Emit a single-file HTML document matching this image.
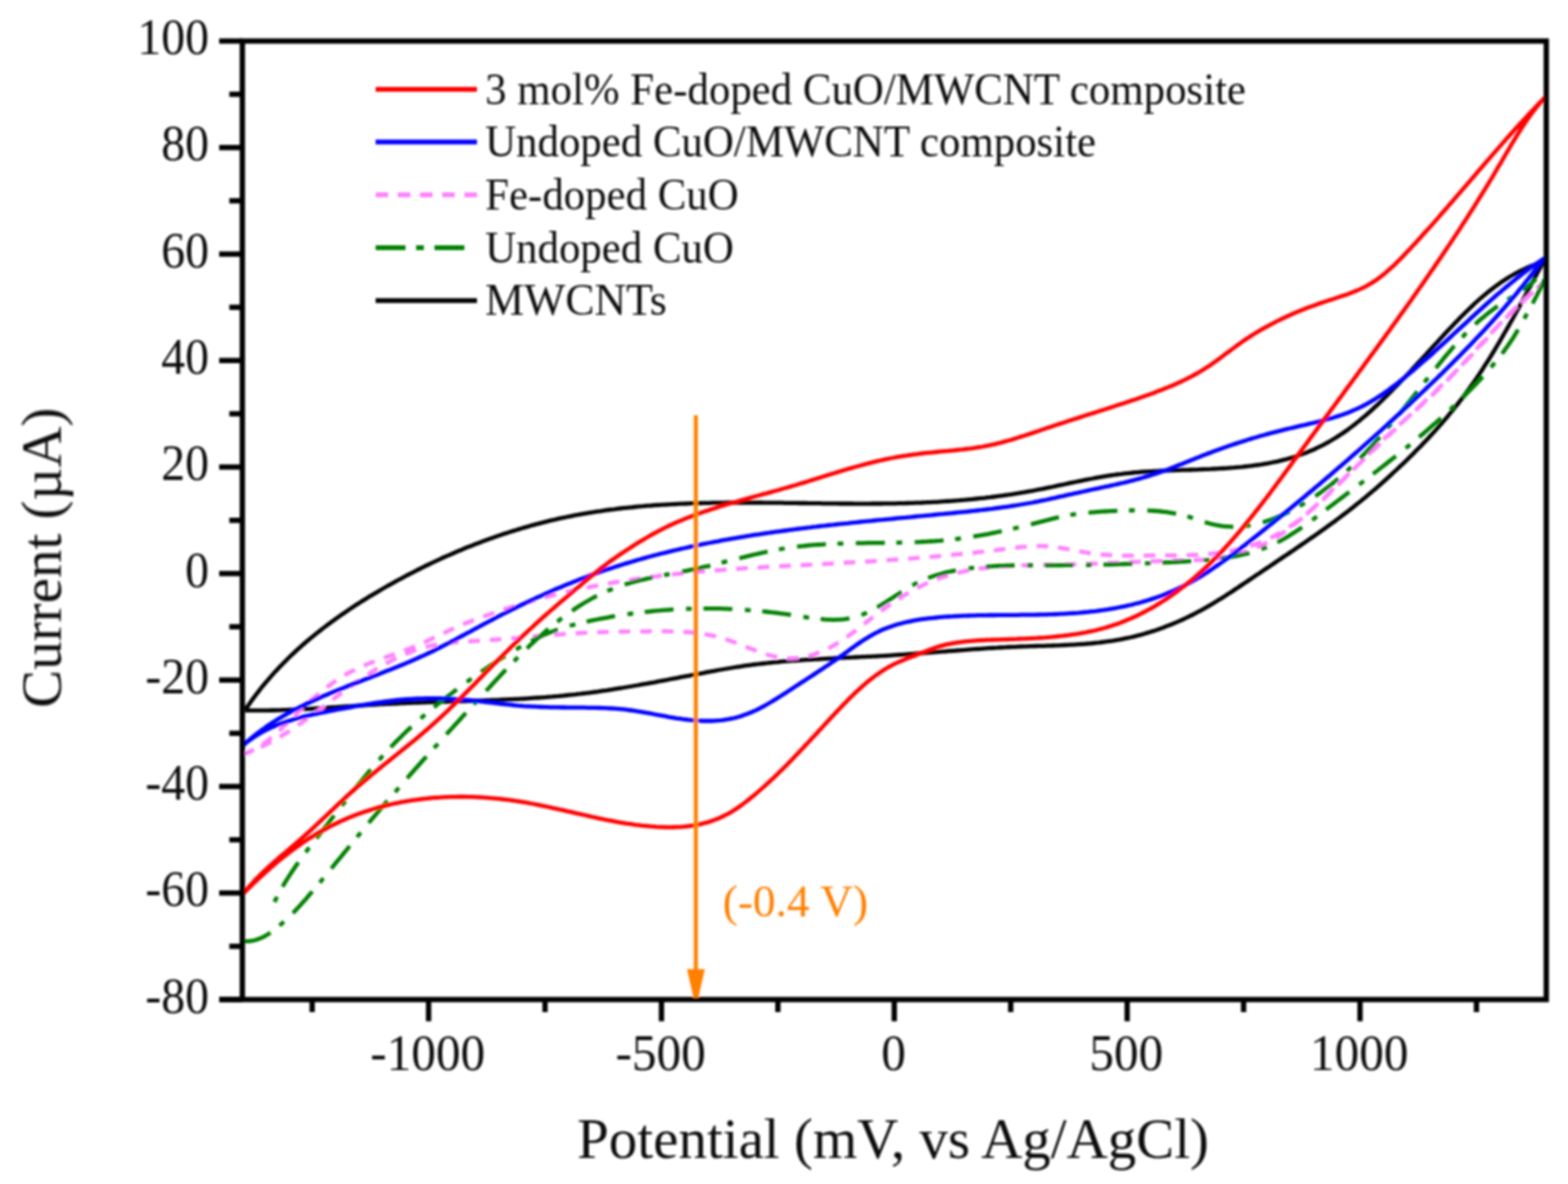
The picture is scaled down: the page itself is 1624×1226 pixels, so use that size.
<!DOCTYPE html>
<html><head><meta charset="utf-8"><title>Cyclic voltammograms</title>
<style>html,body{margin:0;padding:0;background:#fff;}body{width:1624px;height:1226px;overflow:hidden;}svg{display:block;}</style>
</head><body><svg width="1624" height="1226" viewBox="0 0 1624 1226"><defs><filter id="soft" x="0" y="0" width="1624" height="1226" filterUnits="userSpaceOnUse"><feGaussianBlur stdDeviation="1.0"/></filter></defs><rect width="1624" height="1226" fill="#fff"/><g filter="url(#soft)"><path d="M254.0,735.0 L255.7,732.5 L257.4,730.0 L259.2,727.5 L260.9,725.0 L262.7,722.6 L264.5,720.2 L266.3,717.8 L268.2,715.4 L270.0,713.0 L271.9,710.7 L273.8,708.4 L275.7,706.1 L277.7,703.8 L279.6,701.6 L281.6,699.3 L283.6,697.1 L285.6,694.9 L287.7,692.7 L289.7,690.6 L291.8,688.4 L293.9,686.3 L296.0,684.2 L298.1,682.1 L300.2,680.0 L302.4,677.9 L304.6,675.9 L306.7,673.9 L308.9,671.9 L311.2,669.9 L313.4,667.9 L315.6,666.0 L317.9,664.0 L320.2,662.1 L322.5,660.2 L324.8,658.3 L327.1,656.4 L329.4,654.6 L331.8,652.7 L334.1,650.9 L336.5,649.1 L338.9,647.3 L341.3,645.5 L343.7,643.7 L346.1,642.0 L348.5,640.2 L351.0,638.5 L353.4,636.8 L355.9,635.1 L358.3,633.4 L360.8,631.7 L363.3,630.0 L365.8,628.4 L368.3,626.7 L370.9,625.1 L373.4,623.5 L375.9,621.9 L378.5,620.3 L381.0,618.7 L383.6,617.2 L386.2,615.6 L388.8,614.1 L391.4,612.6 L394.0,611.0 L396.6,609.5 L399.2,608.0 L401.8,606.5 L404.4,605.1 L407.1,603.6 L409.7,602.1 L412.3,600.7 L415.0,599.3 L417.6,597.8 L420.3,596.4 L423.0,595.0 L425.7,593.6 L428.3,592.3 L431.0,590.9 L433.7,589.5 L436.4,588.2 L439.1,586.8 L441.8,585.5 L444.5,584.2 L447.3,582.9 L450.0,581.6 L452.7,580.4 L455.5,579.1 L458.2,577.8 L461.0,576.6 L463.7,575.4 L466.5,574.2 L469.2,573.0 L472.0,571.8 L474.8,570.6 L477.6,569.4 L480.3,568.3 L483.1,567.1 L485.9,566.0 L488.7,564.9 L491.5,563.8 L494.3,562.7 L497.1,561.7 L500.0,560.6 L502.8,559.6 L505.6,558.5 L508.4,557.5 L511.3,556.5 L514.1,555.5 L516.9,554.5 L519.8,553.6 L522.6,552.6 L525.5,551.7 L528.3,550.8 L531.2,549.9 L534.1,549.0 L536.9,548.1 L539.8,547.2 L542.7,546.4 L545.6,545.6 L548.4,544.7 L551.3,543.9 L554.2,543.1 L557.1,542.4 L560.0,541.6 L562.9,540.9 L565.8,540.1 L568.7,539.4 L571.6,538.7 L574.5,538.1 L577.4,537.4 L580.3,536.7 L583.2,536.1 L586.2,535.5 L589.1,534.9 L592.0,534.3 L594.9,533.7 L597.8,533.2 L600.8,532.6 L603.7,532.1 L606.6,531.6 L609.6,531.1 L612.5,530.6 L615.5,530.2 L618.4,529.7 L621.4,529.3 L624.3,528.8 L627.2,528.4 L630.2,528.0 L633.2,527.6 L636.1,527.3 L639.1,526.9 L642.0,526.5 L645.0,526.2 L648.0,525.9 L650.9,525.6 L653.9,525.3 L656.9,525.0 L659.8,524.7 L662.8,524.4 L665.8,524.2 L668.7,523.9 L671.7,523.7 L674.7,523.5 L677.7,523.2 L680.7,523.0 L683.6,522.8 L686.6,522.6 L689.6,522.5 L692.6,522.3 L695.6,522.1 L698.6,522.0 L701.6,521.8 L704.6,521.7 L707.6,521.6 L710.6,521.5 L713.5,521.4 L716.5,521.2 L719.5,521.2 L722.5,521.1 L725.5,521.0 L728.5,520.9 L731.5,520.8 L734.6,520.8 L737.6,520.7 L740.6,520.7 L743.6,520.6 L746.6,520.6 L749.6,520.6 L752.6,520.5 L755.6,520.5 L758.6,520.5 L761.6,520.5 L764.6,520.5 L767.6,520.5 L770.7,520.5 L773.7,520.5 L776.7,520.5 L779.7,520.5 L782.7,520.5 L785.7,520.5 L788.7,520.5 L791.8,520.6 L794.8,520.6 L797.8,520.6 L800.8,520.6 L803.8,520.7 L806.8,520.7 L809.9,520.7 L812.9,520.8 L815.9,520.8 L818.9,520.8 L821.9,520.9 L825.0,520.9 L828.0,521.0 L831.0,521.0 L834.0,521.0 L837.0,521.1 L840.0,521.1 L843.1,521.2 L846.1,521.2 L849.1,521.2 L852.1,521.3 L855.1,521.3 L858.2,521.3 L861.2,521.4 L864.2,521.4 L867.2,521.4 L870.2,521.5 L873.2,521.5 L876.2,521.5 L879.3,521.5 L882.3,521.5 L885.3,521.6 L888.3,521.6 L891.3,521.6 L894.3,521.6 L897.3,521.6 L900.3,521.6 L903.3,521.5 L906.4,521.5 L909.4,521.5 L912.4,521.5 L915.4,521.4 L918.4,521.4 L921.4,521.4 L924.4,521.3 L927.4,521.3 L930.4,521.2 L933.4,521.1 L936.4,521.1 L939.4,521.0 L942.4,520.9 L945.4,520.8 L948.4,520.7 L951.4,520.6 L954.4,520.5 L957.3,520.3 L960.3,520.2 L963.3,520.1 L966.3,519.9 L969.3,519.8 L972.3,519.6 L975.3,519.4 L978.2,519.2 L981.2,519.0 L984.2,518.8 L987.2,518.6 L990.1,518.4 L993.1,518.2 L996.1,517.9 L999.1,517.7 L1002.0,517.4 L1005.0,517.1 L1008.0,516.8 L1010.9,516.5 L1013.9,516.2 L1016.8,515.9 L1019.8,515.6 L1022.8,515.2 L1025.7,514.9 L1028.7,514.5 L1031.6,514.1 L1034.6,513.7 L1037.5,513.3 L1040.5,512.9 L1043.4,512.5 L1046.4,512.0 L1049.3,511.6 L1052.3,511.1 L1055.2,510.7 L1058.2,510.2 L1061.1,509.7 L1064.1,509.1 L1067.0,508.6 L1069.9,508.1 L1072.9,507.5 L1075.8,506.9 L1078.8,506.4 L1081.7,505.8 L1084.6,505.2 L1087.6,504.6 L1090.5,504.0 L1093.4,503.3 L1096.4,502.7 L1099.3,502.1 L1102.3,501.5 L1105.2,500.9 L1108.1,500.2 L1111.1,499.6 L1114.0,499.0 L1117.0,498.4 L1119.9,497.8 L1122.9,497.2 L1125.8,496.6 L1128.8,496.0 L1131.7,495.5 L1134.7,494.9 L1137.6,494.4 L1140.6,493.9 L1143.5,493.4 L1146.5,492.9 L1149.4,492.4 L1152.4,492.0 L1155.4,491.5 L1158.3,491.1 L1161.3,490.8 L1164.3,490.4 L1167.3,490.1 L1170.2,489.8 L1173.2,489.5 L1176.2,489.2 L1179.2,489.0 L1182.2,488.7 L1185.2,488.5 L1188.1,488.3 L1191.1,488.1 L1194.1,488.0 L1197.1,487.8 L1200.1,487.7 L1203.1,487.5 L1206.1,487.4 L1209.1,487.3 L1212.1,487.2 L1215.1,487.0 L1218.1,486.9 L1221.1,486.8 L1224.1,486.7 L1227.2,486.6 L1230.2,486.6 L1233.2,486.5 L1236.2,486.4 L1239.2,486.3 L1242.2,486.2 L1245.2,486.0 L1248.2,485.9 L1251.2,485.8 L1254.2,485.7 L1257.2,485.5 L1260.3,485.4 L1263.3,485.2 L1266.3,485.0 L1269.3,484.8 L1272.3,484.6 L1275.3,484.4 L1278.3,484.2 L1281.3,483.9 L1284.3,483.7 L1287.3,483.4 L1290.3,483.0 L1293.3,482.7 L1296.3,482.3 L1299.3,481.9 L1302.3,481.5 L1305.2,481.1 L1308.2,480.6 L1311.2,480.1 L1314.1,479.6 L1317.0,479.0 L1320.0,478.4 L1322.9,477.8 L1325.8,477.1 L1328.7,476.4 L1331.6,475.7 L1334.5,474.9 L1337.3,474.1 L1340.2,473.2 L1343.0,472.3 L1345.8,471.3 L1348.6,470.3 L1351.4,469.3 L1354.1,468.2 L1356.8,467.1 L1359.6,465.9 L1362.3,464.7 L1364.9,463.4 L1367.6,462.1 L1370.2,460.8 L1372.9,459.4 L1375.5,458.0 L1378.0,456.5 L1380.6,455.0 L1383.1,453.5 L1385.6,451.9 L1388.1,450.2 L1390.6,448.6 L1393.1,446.9 L1395.5,445.2 L1397.9,443.4 L1400.3,441.6 L1402.7,439.8 L1405.0,437.9 L1407.4,436.1 L1409.7,434.1 L1412.0,432.2 L1414.3,430.3 L1416.5,428.3 L1418.8,426.3 L1421.0,424.3 L1423.3,422.2 L1425.5,420.2 L1427.7,418.1 L1429.9,416.0 L1432.0,413.9 L1434.2,411.8 L1436.4,409.7 L1438.5,407.6 L1440.6,405.4 L1442.7,403.3 L1444.9,401.1 L1447.0,399.0 L1449.1,396.8 L1451.1,394.6 L1453.2,392.4 L1455.3,390.3 L1457.4,388.1 L1459.4,385.9 L1461.5,383.7 L1463.5,381.5 L1465.6,379.2 L1467.6,377.0 L1469.7,374.8 L1471.7,372.6 L1473.7,370.4 L1475.8,368.2 L1477.8,366.0 L1479.8,363.7 L1481.9,361.5 L1483.9,359.3 L1485.9,357.1 L1488.0,354.9 L1490.0,352.7 L1492.0,350.4 L1494.1,348.2 L1496.1,346.0 L1498.2,343.8 L1500.2,341.6 L1502.3,339.5 L1504.4,337.3 L1506.4,335.1 L1508.5,332.9 L1510.6,330.8 L1512.7,328.6 L1514.8,326.5 L1516.9,324.4 L1519.1,322.3 L1521.2,320.2 L1523.4,318.1 L1525.6,316.1 L1527.7,314.0 L1529.9,312.0 L1532.2,310.0 L1534.4,308.1 L1536.7,306.2 L1538.9,304.3 L1541.2,302.4 L1543.6,300.5 L1545.9,298.7 L1548.3,296.9 L1550.6,295.2 L1553.1,293.5 L1555.5,291.8 L1557.9,290.2 L1560.4,288.6 L1562.9,287.0 L1565.5,285.5 L1568.1,284.0 L1570.7,282.6 L1573.3,281.2 L1576.0,279.8 L1578.7,278.6 L1581.4,277.3 L1584.1,276.1 L1586.9,275.0 L1589.8,273.9 L1592.6,272.9 L1595.6,271.9 L1598.5,271.0 L1597.1,273.6 L1595.7,276.3 L1594.3,278.9 L1592.8,281.5 L1591.4,284.2 L1590.0,286.8 L1588.6,289.4 L1587.2,292.1 L1585.8,294.7 L1584.4,297.4 L1583.0,300.0 L1581.5,302.7 L1580.1,305.3 L1578.7,308.0 L1577.3,310.6 L1575.8,313.2 L1574.4,315.9 L1573.0,318.5 L1571.5,321.2 L1570.1,323.8 L1568.6,326.4 L1567.2,329.1 L1565.7,331.7 L1564.3,334.3 L1562.8,337.0 L1561.3,339.6 L1559.8,342.2 L1558.3,344.8 L1556.8,347.4 L1555.3,350.0 L1553.8,352.6 L1552.3,355.2 L1550.7,357.8 L1549.2,360.4 L1547.7,362.9 L1546.1,365.5 L1544.5,368.1 L1542.9,370.6 L1541.4,373.2 L1539.7,375.7 L1538.1,378.2 L1536.5,380.7 L1534.9,383.3 L1533.2,385.8 L1531.6,388.3 L1529.9,390.7 L1528.2,393.2 L1526.5,395.7 L1524.8,398.1 L1523.0,400.6 L1521.3,403.0 L1519.5,405.4 L1517.8,407.8 L1516.0,410.2 L1514.2,412.6 L1512.3,415.0 L1510.5,417.4 L1508.7,419.7 L1506.8,422.0 L1504.9,424.4 L1503.0,426.7 L1501.1,429.0 L1499.2,431.3 L1497.3,433.6 L1495.3,435.9 L1493.4,438.1 L1491.4,440.4 L1489.4,442.6 L1487.4,444.9 L1485.4,447.1 L1483.4,449.3 L1481.3,451.5 L1479.3,453.7 L1477.2,455.9 L1475.2,458.0 L1473.1,460.2 L1471.0,462.4 L1468.9,464.5 L1466.8,466.6 L1464.7,468.8 L1462.6,470.9 L1460.4,473.0 L1458.3,475.1 L1456.1,477.2 L1454.0,479.3 L1451.8,481.3 L1449.6,483.4 L1447.4,485.5 L1445.2,487.5 L1443.0,489.5 L1440.8,491.6 L1438.6,493.6 L1436.4,495.6 L1434.2,497.6 L1431.9,499.6 L1429.7,501.6 L1427.4,503.6 L1425.2,505.6 L1422.9,507.5 L1420.6,509.5 L1418.3,511.4 L1416.0,513.3 L1413.7,515.3 L1411.4,517.2 L1409.1,519.1 L1406.8,520.9 L1404.4,522.8 L1402.1,524.7 L1399.7,526.5 L1397.4,528.4 L1395.0,530.2 L1392.6,532.0 L1390.3,533.8 L1387.9,535.6 L1385.5,537.4 L1383.1,539.2 L1380.7,541.0 L1378.2,542.7 L1375.8,544.5 L1373.4,546.2 L1371.0,548.0 L1368.5,549.7 L1366.1,551.5 L1363.6,553.2 L1361.2,554.9 L1358.7,556.6 L1356.3,558.3 L1353.8,560.0 L1351.4,561.8 L1348.9,563.4 L1346.4,565.1 L1343.9,566.8 L1341.5,568.5 L1339.0,570.2 L1336.5,571.9 L1334.0,573.6 L1331.5,575.2 L1329.0,576.9 L1326.5,578.6 L1324.0,580.3 L1321.6,581.9 L1319.1,583.6 L1316.6,585.3 L1314.1,587.0 L1311.6,588.6 L1309.1,590.3 L1306.6,592.0 L1304.1,593.7 L1301.6,595.3 L1299.1,597.0 L1296.6,598.7 L1294.1,600.4 L1291.6,602.1 L1289.1,603.7 L1286.6,605.4 L1284.1,607.1 L1281.6,608.8 L1279.1,610.4 L1276.6,612.1 L1274.1,613.7 L1271.6,615.3 L1269.1,617.0 L1266.5,618.6 L1264.0,620.2 L1261.4,621.7 L1258.9,623.3 L1256.3,624.9 L1253.7,626.4 L1251.2,627.9 L1248.6,629.4 L1245.9,630.9 L1243.3,632.3 L1240.7,633.7 L1238.0,635.1 L1235.4,636.5 L1232.7,637.8 L1230.0,639.1 L1227.3,640.4 L1224.5,641.7 L1221.8,642.9 L1219.1,644.1 L1216.3,645.3 L1213.5,646.4 L1210.7,647.6 L1207.9,648.6 L1205.1,649.7 L1202.3,650.7 L1199.5,651.7 L1196.7,652.7 L1193.8,653.6 L1191.0,654.5 L1188.1,655.4 L1185.2,656.3 L1182.3,657.1 L1179.4,657.8 L1176.5,658.6 L1173.6,659.3 L1170.7,660.0 L1167.8,660.6 L1164.9,661.2 L1161.9,661.8 L1159.0,662.4 L1156.0,662.9 L1153.1,663.4 L1150.1,663.8 L1147.2,664.2 L1144.2,664.6 L1141.2,665.0 L1138.3,665.4 L1135.3,665.7 L1132.3,666.0 L1129.3,666.3 L1126.3,666.5 L1123.3,666.8 L1120.4,667.0 L1117.4,667.2 L1114.4,667.4 L1111.4,667.6 L1108.3,667.7 L1105.3,667.9 L1102.3,668.0 L1099.3,668.1 L1096.3,668.3 L1093.3,668.4 L1090.3,668.5 L1087.3,668.6 L1084.3,668.7 L1081.2,668.8 L1078.2,668.9 L1075.2,668.9 L1072.2,669.0 L1069.2,669.1 L1066.2,669.2 L1063.1,669.3 L1060.1,669.4 L1057.1,669.5 L1054.1,669.6 L1051.1,669.8 L1048.1,669.9 L1045.1,670.0 L1042.1,670.2 L1039.1,670.3 L1036.1,670.5 L1033.1,670.7 L1030.1,670.8 L1027.1,671.0 L1024.1,671.2 L1021.1,671.4 L1018.1,671.6 L1015.2,671.8 L1012.2,672.0 L1009.2,672.2 L1006.2,672.4 L1003.2,672.6 L1000.2,672.9 L997.2,673.1 L994.3,673.3 L991.3,673.5 L988.3,673.8 L985.3,674.0 L982.3,674.2 L979.3,674.5 L976.4,674.7 L973.4,674.9 L970.4,675.1 L967.4,675.4 L964.4,675.6 L961.5,675.8 L958.5,676.1 L955.5,676.3 L952.5,676.5 L949.5,676.7 L946.5,677.0 L943.5,677.2 L940.6,677.4 L937.6,677.6 L934.6,677.8 L931.6,678.0 L928.6,678.2 L925.6,678.4 L922.6,678.6 L919.6,678.8 L916.6,679.0 L913.6,679.1 L910.6,679.3 L907.6,679.5 L904.6,679.6 L901.6,679.8 L898.6,679.9 L895.6,680.1 L892.6,680.2 L889.6,680.4 L886.6,680.5 L883.6,680.7 L880.6,680.8 L877.6,680.9 L874.6,681.1 L871.6,681.2 L868.6,681.4 L865.6,681.5 L862.6,681.7 L859.6,681.8 L856.6,682.0 L853.6,682.1 L850.6,682.3 L847.6,682.5 L844.6,682.6 L841.6,682.8 L838.6,683.0 L835.6,683.2 L832.6,683.4 L829.6,683.6 L826.6,683.8 L823.6,684.0 L820.6,684.2 L817.6,684.4 L814.6,684.7 L811.6,684.9 L808.6,685.2 L805.6,685.5 L802.6,685.7 L799.7,686.0 L796.7,686.3 L793.7,686.7 L790.7,687.0 L787.7,687.3 L784.8,687.7 L781.8,688.0 L778.8,688.4 L775.8,688.8 L772.9,689.2 L769.9,689.6 L767.0,690.1 L764.0,690.5 L761.0,691.0 L758.1,691.5 L755.1,692.0 L752.2,692.5 L749.2,693.0 L746.3,693.5 L743.3,694.0 L740.4,694.6 L737.4,695.1 L734.5,695.6 L731.6,696.2 L728.6,696.8 L725.7,697.3 L722.7,697.9 L719.8,698.4 L716.8,699.0 L713.9,699.6 L710.9,700.1 L708.0,700.7 L705.1,701.2 L702.1,701.8 L699.2,702.4 L696.2,702.9 L693.3,703.5 L690.3,704.1 L687.4,704.6 L684.4,705.2 L681.5,705.7 L678.5,706.3 L675.6,706.8 L672.6,707.3 L669.7,707.9 L666.7,708.4 L663.8,708.9 L660.8,709.5 L657.9,710.0 L654.9,710.5 L652.0,711.0 L649.0,711.5 L646.1,712.0 L643.1,712.5 L640.2,712.9 L637.2,713.4 L634.2,713.9 L631.3,714.3 L628.3,714.8 L625.4,715.2 L622.4,715.6 L619.4,716.1 L616.5,716.5 L613.5,716.9 L610.5,717.3 L607.6,717.7 L604.6,718.0 L601.6,718.4 L598.6,718.7 L595.7,719.1 L592.7,719.4 L589.7,719.7 L586.7,720.0 L583.7,720.3 L580.8,720.6 L577.8,720.9 L574.8,721.1 L571.8,721.4 L568.8,721.6 L565.8,721.9 L562.8,722.1 L559.9,722.3 L556.9,722.5 L553.9,722.7 L550.9,722.9 L547.9,723.1 L544.9,723.3 L541.9,723.5 L538.9,723.6 L535.9,723.8 L532.9,723.9 L529.9,724.1 L526.9,724.2 L523.9,724.4 L520.9,724.5 L517.9,724.6 L514.9,724.8 L511.9,724.9 L508.9,725.0 L505.9,725.1 L502.9,725.2 L499.9,725.4 L496.9,725.5 L493.9,725.6 L490.9,725.7 L487.9,725.8 L484.9,725.9 L481.9,726.0 L478.9,726.0 L475.9,726.1 L472.9,726.2 L469.9,726.3 L466.8,726.4 L463.8,726.5 L460.8,726.6 L457.8,726.7 L454.8,726.8 L451.8,726.9 L448.8,727.0 L445.8,727.1 L442.8,727.2 L439.8,727.3 L436.8,727.4 L433.8,727.5 L430.8,727.6 L427.8,727.7 L424.8,727.8 L421.8,727.9 L418.8,728.1 L415.8,728.2 L412.8,728.3 L409.8,728.5 L406.8,728.6 L403.8,728.8 L400.8,728.9 L397.8,729.1 L394.8,729.2 L391.8,729.4 L388.8,729.6 L385.8,729.8 L382.8,729.9 L379.8,730.1 L376.9,730.3 L373.9,730.5 L370.9,730.7 L367.9,730.9 L364.9,731.1 L361.9,731.3 L358.9,731.5 L355.9,731.7 L352.9,731.9 L349.9,732.1 L347.0,732.3 L344.0,732.5 L341.0,732.7 L338.0,732.9 L335.0,733.1 L332.0,733.3 L329.0,733.4 L326.0,733.6 L323.0,733.8 L320.0,734.0 L317.0,734.1 L314.1,734.3 L311.1,734.4 L308.1,734.6 L305.1,734.7 L302.1,734.9 L299.1,735.0 L296.1,735.1 L293.1,735.2 L290.1,735.3 L287.1,735.4 L284.1,735.5 L281.1,735.5 L278.1,735.6 L275.1,735.6 L272.1,735.7 L269.1,735.7 L266.0,735.7 L263.0,735.7 L260.0,735.7 L257.0,735.6 L254.0,735.6" fill="none" stroke="#000" stroke-width="4.3" stroke-linejoin="round"/><path d="M252.0,781.0 L254.9,780.0 L257.7,778.8 L260.5,777.5 L263.2,776.2 L265.8,774.7 L268.3,773.2 L270.8,771.6 L273.2,769.9 L275.6,768.2 L277.9,766.3 L280.2,764.5 L282.5,762.6 L284.7,760.6 L286.9,758.6 L289.1,756.6 L291.3,754.5 L293.4,752.4 L295.6,750.4 L297.7,748.3 L299.9,746.2 L302.1,744.0 L304.2,741.9 L306.4,739.8 L308.6,737.8 L310.8,735.7 L313.0,733.6 L315.2,731.5 L317.4,729.5 L319.7,727.4 L321.9,725.4 L324.2,723.4 L326.5,721.4 L328.8,719.5 L331.1,717.6 L333.4,715.7 L335.8,713.8 L338.2,711.9 L340.5,710.1 L343.0,708.4 L345.4,706.6 L347.9,704.9 L350.3,703.3 L352.8,701.7 L355.4,700.1 L357.9,698.6 L360.5,697.1 L363.1,695.7 L365.8,694.4 L368.5,693.1 L371.1,691.8 L373.9,690.6 L376.6,689.4 L379.3,688.2 L382.1,687.1 L384.9,686.0 L387.7,684.9 L390.5,683.9 L393.3,682.8 L396.2,681.8 L399.0,680.8 L401.8,679.8 L404.7,678.7 L407.5,677.7 L410.3,676.7 L413.2,675.7 L416.0,674.7 L418.8,673.6 L421.6,672.5 L424.4,671.5 L427.2,670.3 L430.0,669.2 L432.8,668.0 L435.5,666.8 L438.2,665.6 L441.0,664.4 L443.7,663.1 L446.4,661.8 L449.1,660.5 L451.8,659.3 L454.5,658.0 L457.2,656.7 L459.9,655.4 L462.6,654.1 L465.3,652.8 L468.0,651.6 L470.7,650.4 L473.4,649.1 L476.2,648.0 L478.9,646.8 L481.7,645.6 L484.5,644.5 L487.2,643.4 L490.0,642.3 L492.8,641.3 L495.6,640.2 L498.4,639.2 L501.2,638.2 L504.1,637.2 L506.9,636.2 L509.7,635.2 L512.5,634.2 L515.4,633.2 L518.2,632.3 L521.1,631.3 L523.9,630.4 L526.8,629.5 L529.6,628.6 L532.5,627.7 L535.3,626.8 L538.2,626.0 L541.1,625.1 L544.0,624.3 L546.9,623.4 L549.7,622.6 L552.6,621.8 L555.5,621.0 L558.4,620.2 L561.3,619.4 L564.2,618.6 L567.1,617.9 L570.0,617.1 L573.0,616.4 L575.9,615.7 L578.8,615.0 L581.7,614.3 L584.6,613.6 L587.6,612.9 L590.5,612.2 L593.4,611.6 L596.4,610.9 L599.3,610.3 L602.2,609.7 L605.2,609.0 L608.1,608.4 L611.1,607.8 L614.0,607.2 L617.0,606.7 L619.9,606.1 L622.9,605.5 L625.9,605.0 L628.8,604.5 L631.8,603.9 L634.7,603.4 L637.7,602.9 L640.7,602.4 L643.6,601.9 L646.6,601.4 L649.6,601.0 L652.5,600.5 L655.5,600.0 L658.5,599.6 L661.5,599.2 L664.4,598.7 L667.4,598.3 L670.4,597.9 L673.4,597.5 L676.3,597.1 L679.3,596.8 L682.3,596.4 L685.3,596.0 L688.2,595.7 L691.2,595.3 L694.2,595.0 L697.2,594.7 L700.2,594.3 L703.1,594.0 L706.1,593.7 L709.1,593.4 L712.1,593.1 L715.1,592.8 L718.1,592.5 L721.0,592.3 L724.0,592.0 L727.0,591.7 L730.0,591.5 L733.0,591.2 L736.0,591.0 L739.0,590.8 L741.9,590.5 L744.9,590.3 L747.9,590.1 L750.9,589.8 L753.9,589.6 L756.9,589.4 L759.9,589.2 L762.9,589.0 L765.8,588.8 L768.8,588.6 L771.8,588.4 L774.8,588.2 L777.8,588.1 L780.8,587.9 L783.8,587.7 L786.8,587.5 L789.8,587.4 L792.8,587.2 L795.8,587.0 L798.8,586.9 L801.7,586.7 L804.7,586.5 L807.7,586.4 L810.7,586.2 L813.7,586.1 L816.7,585.9 L819.7,585.7 L822.7,585.6 L825.7,585.4 L828.7,585.3 L831.7,585.1 L834.7,585.0 L837.7,584.8 L840.7,584.7 L843.7,584.5 L846.7,584.4 L849.7,584.2 L852.7,584.0 L855.7,583.9 L858.7,583.7 L861.7,583.6 L864.7,583.4 L867.6,583.2 L870.6,583.1 L873.6,582.9 L876.6,582.7 L879.6,582.6 L882.6,582.4 L885.6,582.2 L888.6,582.0 L891.6,581.9 L894.6,581.7 L897.6,581.5 L900.6,581.3 L903.6,581.1 L906.6,580.9 L909.6,580.7 L912.6,580.5 L915.6,580.3 L918.6,580.1 L921.6,579.9 L924.6,579.7 L927.6,579.5 L930.6,579.3 L933.6,579.0 L936.6,578.8 L939.6,578.6 L942.6,578.4 L945.6,578.1 L948.6,577.9 L951.6,577.6 L954.5,577.4 L957.5,577.1 L960.5,576.9 L963.5,576.6 L966.5,576.4 L969.5,576.1 L972.5,575.8 L975.5,575.6 L978.5,575.3 L981.4,575.0 L984.4,574.7 L987.4,574.4 L990.4,574.1 L993.4,573.8 L996.4,573.5 L999.3,573.2 L1002.3,572.9 L1005.3,572.6 L1008.3,572.3 L1011.3,572.0 L1014.2,571.6 L1017.2,571.3 L1020.2,571.0 L1023.2,570.6 L1026.1,570.3 L1029.1,569.9 L1032.1,569.6 L1035.0,569.2 L1038.0,568.8 L1041.0,568.4 L1043.9,568.1 L1046.9,567.7 L1049.9,567.3 L1052.8,567.0 L1055.8,566.6 L1058.7,566.3 L1061.7,566.1 L1064.7,565.8 L1067.6,565.6 L1070.6,565.5 L1073.5,565.4 L1076.5,565.4 L1079.5,565.4 L1082.4,565.5 L1085.4,565.7 L1088.4,566.0 L1091.3,566.3 L1094.3,566.7 L1097.3,567.1 L1100.2,567.6 L1103.2,568.1 L1106.2,568.7 L1109.1,569.2 L1112.1,569.8 L1115.1,570.3 L1118.0,570.9 L1121.0,571.4 L1124.0,572.0 L1127.0,572.5 L1130.0,572.9 L1132.9,573.3 L1135.9,573.7 L1138.9,574.0 L1141.9,574.3 L1144.9,574.5 L1147.9,574.7 L1150.9,574.9 L1153.9,575.0 L1156.9,575.2 L1159.9,575.2 L1162.9,575.3 L1165.9,575.4 L1168.9,575.4 L1171.9,575.4 L1174.8,575.4 L1177.8,575.4 L1180.8,575.3 L1183.8,575.3 L1186.8,575.3 L1189.8,575.2 L1192.8,575.2 L1195.8,575.2 L1198.8,575.1 L1201.8,575.1 L1204.8,575.1 L1207.8,575.1 L1210.8,575.1 L1213.8,575.1 L1216.8,575.1 L1219.8,575.0 L1222.8,575.0 L1225.8,575.0 L1228.8,574.9 L1231.8,574.8 L1234.8,574.7 L1237.8,574.6 L1240.8,574.5 L1243.8,574.3 L1246.9,574.1 L1249.9,573.8 L1252.9,573.6 L1255.9,573.2 L1258.9,572.9 L1261.9,572.5 L1264.9,572.1 L1267.8,571.6 L1270.8,571.1 L1273.8,570.6 L1276.7,570.0 L1279.7,569.4 L1282.6,568.7 L1285.5,568.0 L1288.4,567.2 L1291.3,566.4 L1294.2,565.5 L1297.0,564.6 L1299.9,563.6 L1302.7,562.6 L1305.4,561.5 L1308.2,560.4 L1310.9,559.2 L1313.6,558.0 L1316.3,556.7 L1319.0,555.3 L1321.6,553.9 L1324.2,552.5 L1326.8,551.0 L1329.3,549.5 L1331.8,547.9 L1334.3,546.2 L1336.8,544.6 L1339.3,542.9 L1341.7,541.1 L1344.1,539.3 L1346.5,537.5 L1348.9,535.7 L1351.2,533.8 L1353.6,531.9 L1355.9,530.0 L1358.2,528.0 L1360.5,526.1 L1362.7,524.1 L1365.0,522.0 L1367.2,520.0 L1369.5,518.0 L1371.7,515.9 L1373.9,513.8 L1376.1,511.8 L1378.2,509.7 L1380.4,507.6 L1382.5,505.5 L1384.7,503.4 L1386.8,501.3 L1389.0,499.1 L1391.1,497.0 L1393.2,494.9 L1395.3,492.8 L1397.4,490.6 L1399.5,488.5 L1401.6,486.4 L1403.7,484.2 L1405.8,482.1 L1407.9,480.0 L1410.0,477.8 L1412.1,475.7 L1414.2,473.6 L1416.3,471.5 L1418.4,469.4 L1420.5,467.2 L1422.7,465.1 L1424.8,463.0 L1426.9,460.9 L1429.1,458.8 L1431.2,456.8 L1433.4,454.7 L1435.5,452.6 L1437.7,450.6 L1439.9,448.5 L1442.1,446.5 L1444.3,444.5 L1446.5,442.4 L1448.8,440.4 L1451.0,438.4 L1453.2,436.4 L1455.4,434.4 L1457.7,432.4 L1459.9,430.4 L1462.2,428.3 L1464.4,426.3 L1466.6,424.3 L1468.9,422.3 L1471.1,420.3 L1473.3,418.3 L1475.6,416.3 L1477.8,414.2 L1480.0,412.2 L1482.2,410.1 L1484.4,408.1 L1486.6,406.0 L1488.8,403.9 L1490.9,401.9 L1493.1,399.8 L1495.2,397.7 L1497.3,395.5 L1499.4,393.4 L1501.5,391.3 L1503.6,389.1 L1505.7,386.9 L1507.7,384.8 L1509.8,382.6 L1511.8,380.4 L1513.9,378.2 L1515.9,376.0 L1517.9,373.8 L1519.9,371.5 L1522.0,369.3 L1524.0,367.1 L1526.0,364.9 L1528.0,362.7 L1530.0,360.5 L1532.0,358.2 L1534.0,356.0 L1536.1,353.8 L1538.1,351.6 L1540.1,349.4 L1542.1,347.2 L1544.2,345.0 L1546.2,342.9 L1548.3,340.7 L1550.4,338.5 L1552.5,336.4 L1554.6,334.3 L1556.7,332.2 L1558.8,330.0 L1560.9,327.9 L1563.0,325.8 L1565.2,323.8 L1567.3,321.7 L1569.5,319.6 L1571.7,317.5 L1573.8,315.5 L1576.0,313.4 L1578.2,311.4 L1580.4,309.3 L1582.6,307.3 L1584.8,305.2 L1587.0,303.2 L1589.2,301.2 L1591.4,299.1 L1593.6,297.1 L1595.8,295.0 L1598.0,293.0 L1595.8,295.1 L1593.7,297.2 L1591.5,299.2 L1589.2,301.2 L1587.0,303.2 L1584.7,305.2 L1582.5,307.2 L1580.2,309.2 L1578.0,311.2 L1575.7,313.2 L1573.5,315.2 L1571.3,317.2 L1569.1,319.3 L1567.0,321.3 L1564.8,323.4 L1562.7,325.6 L1560.6,327.7 L1558.6,329.8 L1556.5,332.0 L1554.5,334.2 L1552.5,336.4 L1550.5,338.6 L1548.5,340.8 L1546.5,343.1 L1544.5,345.3 L1542.5,347.5 L1540.5,349.8 L1538.6,352.0 L1536.6,354.2 L1534.6,356.4 L1532.6,358.7 L1530.5,360.9 L1528.5,363.0 L1526.4,365.2 L1524.4,367.4 L1522.3,369.6 L1520.3,371.7 L1518.2,373.9 L1516.1,376.1 L1514.0,378.2 L1511.9,380.3 L1509.7,382.5 L1507.6,384.6 L1505.5,386.7 L1503.4,388.8 L1501.2,390.9 L1499.1,393.0 L1496.9,395.1 L1494.8,397.2 L1492.6,399.3 L1490.4,401.4 L1488.3,403.5 L1486.1,405.5 L1483.9,407.6 L1481.7,409.7 L1479.5,411.8 L1477.4,413.8 L1475.2,415.9 L1473.0,418.0 L1470.8,420.0 L1468.6,422.1 L1466.4,424.1 L1464.3,426.2 L1462.1,428.3 L1459.9,430.3 L1457.7,432.4 L1455.5,434.4 L1453.4,436.5 L1451.2,438.6 L1449.0,440.6 L1446.9,442.7 L1444.7,444.8 L1442.5,446.8 L1440.4,448.9 L1438.2,451.0 L1436.1,453.0 L1433.9,455.1 L1431.8,457.2 L1429.6,459.2 L1427.5,461.3 L1425.3,463.4 L1423.2,465.4 L1421.0,467.5 L1418.9,469.6 L1416.7,471.7 L1414.6,473.7 L1412.4,475.8 L1410.3,477.9 L1408.1,480.0 L1406.0,482.0 L1403.8,484.1 L1401.6,486.2 L1399.5,488.3 L1397.3,490.4 L1395.2,492.4 L1393.0,494.5 L1390.9,496.6 L1388.7,498.7 L1386.5,500.8 L1384.4,502.9 L1382.2,505.0 L1380.0,507.1 L1377.9,509.2 L1375.7,511.3 L1373.5,513.4 L1371.3,515.4 L1369.1,517.5 L1366.9,519.6 L1364.7,521.7 L1362.5,523.8 L1360.3,525.8 L1358.1,527.9 L1355.8,529.9 L1353.6,531.9 L1351.3,533.9 L1349.1,535.9 L1346.8,537.9 L1344.5,539.8 L1342.1,541.7 L1339.8,543.6 L1337.4,545.4 L1335.0,547.2 L1332.6,549.0 L1330.2,550.7 L1327.8,552.4 L1325.3,554.1 L1322.8,555.7 L1320.3,557.3 L1317.7,558.8 L1315.1,560.3 L1312.5,561.7 L1309.9,563.0 L1307.2,564.4 L1304.5,565.6 L1301.8,566.8 L1299.1,568.0 L1296.3,569.1 L1293.5,570.1 L1290.7,571.1 L1287.8,572.0 L1285.0,572.9 L1282.1,573.8 L1279.2,574.5 L1276.3,575.2 L1273.4,575.9 L1270.4,576.5 L1267.5,577.1 L1264.5,577.6 L1261.6,578.0 L1258.6,578.4 L1255.6,578.8 L1252.6,579.1 L1249.6,579.3 L1246.6,579.6 L1243.6,579.8 L1240.6,579.9 L1237.6,580.1 L1234.6,580.2 L1231.5,580.3 L1228.5,580.4 L1225.5,580.4 L1222.5,580.5 L1219.4,580.5 L1216.4,580.6 L1213.4,580.6 L1210.4,580.7 L1207.4,580.8 L1204.4,580.8 L1201.4,580.9 L1198.4,581.0 L1195.4,581.1 L1192.4,581.2 L1189.4,581.3 L1186.4,581.4 L1183.4,581.5 L1180.4,581.6 L1177.5,581.8 L1174.5,581.9 L1171.5,582.0 L1168.5,582.1 L1165.5,582.3 L1162.6,582.4 L1159.6,582.5 L1156.6,582.7 L1153.6,582.8 L1150.7,582.9 L1147.7,583.0 L1144.7,583.2 L1141.7,583.3 L1138.8,583.4 L1135.8,583.6 L1132.8,583.7 L1129.8,583.8 L1126.8,583.9 L1123.8,584.0 L1120.8,584.1 L1117.8,584.2 L1114.8,584.3 L1111.8,584.4 L1108.8,584.5 L1105.8,584.5 L1102.8,584.6 L1099.8,584.7 L1096.8,584.7 L1093.7,584.8 L1090.7,584.8 L1087.7,584.9 L1084.7,584.9 L1081.6,584.9 L1078.6,585.0 L1075.6,585.0 L1072.5,585.1 L1069.5,585.2 L1066.5,585.2 L1063.4,585.3 L1060.4,585.4 L1057.4,585.5 L1054.4,585.6 L1051.3,585.7 L1048.3,585.8 L1045.3,586.0 L1042.3,586.2 L1039.3,586.4 L1036.3,586.6 L1033.3,586.8 L1030.3,587.1 L1027.3,587.3 L1024.3,587.6 L1021.4,588.0 L1018.4,588.3 L1015.4,588.7 L1012.5,589.2 L1009.6,589.6 L1006.6,590.1 L1003.7,590.6 L1000.8,591.2 L997.9,591.8 L995.0,592.4 L992.1,593.1 L989.3,593.8 L986.4,594.5 L983.6,595.3 L980.7,596.2 L977.9,597.1 L975.1,598.0 L972.3,599.0 L969.6,600.0 L966.8,601.1 L964.1,602.2 L961.3,603.4 L958.6,604.6 L955.9,605.9 L953.3,607.2 L950.6,608.6 L947.9,610.0 L945.3,611.4 L942.7,612.9 L940.1,614.4 L937.5,616.0 L934.9,617.5 L932.3,619.2 L929.7,620.8 L927.2,622.5 L924.7,624.1 L922.2,625.9 L919.6,627.6 L917.2,629.4 L914.7,631.1 L912.2,632.9 L909.8,634.7 L907.3,636.6 L904.9,638.4 L902.5,640.3 L900.1,642.1 L897.7,644.0 L895.3,645.9 L892.9,647.7 L890.5,649.6 L888.2,651.4 L885.8,653.2 L883.4,655.1 L880.9,656.8 L878.5,658.6 L876.1,660.3 L873.6,662.0 L871.1,663.7 L868.6,665.3 L866.1,666.8 L863.5,668.3 L860.9,669.8 L858.3,671.2 L855.6,672.5 L852.9,673.8 L850.1,674.9 L847.3,676.0 L844.5,677.1 L841.7,678.0 L838.8,678.8 L836.0,679.6 L833.1,680.2 L830.2,680.7 L827.3,681.1 L824.4,681.4 L821.5,681.6 L818.6,681.7 L815.7,681.6 L812.8,681.4 L809.9,681.1 L807.0,680.7 L804.1,680.1 L801.3,679.5 L798.4,678.8 L795.5,678.0 L792.7,677.1 L789.8,676.2 L787.0,675.2 L784.1,674.1 L781.3,673.1 L778.4,672.0 L775.5,670.9 L772.7,669.7 L769.8,668.6 L767.0,667.5 L764.1,666.3 L761.2,665.2 L758.3,664.2 L755.5,663.2 L752.6,662.2 L749.7,661.2 L746.8,660.4 L743.9,659.6 L740.9,658.8 L738.0,658.2 L735.1,657.6 L732.1,657.0 L729.2,656.5 L726.2,656.1 L723.3,655.7 L720.3,655.3 L717.4,655.0 L714.4,654.7 L711.4,654.5 L708.4,654.3 L705.4,654.2 L702.5,654.0 L699.5,653.9 L696.5,653.8 L693.5,653.8 L690.5,653.7 L687.5,653.7 L684.5,653.7 L681.5,653.7 L678.5,653.7 L675.5,653.7 L672.5,653.7 L669.5,653.8 L666.5,653.8 L663.5,653.8 L660.5,653.8 L657.4,653.8 L654.4,653.9 L651.4,653.9 L648.4,653.9 L645.4,654.0 L642.4,654.0 L639.4,654.1 L636.4,654.1 L633.4,654.2 L630.4,654.3 L627.4,654.4 L624.4,654.5 L621.4,654.6 L618.4,654.7 L615.4,654.8 L612.4,654.9 L609.4,655.0 L606.4,655.2 L603.4,655.3 L600.4,655.5 L597.4,655.7 L594.4,655.9 L591.4,656.0 L588.5,656.2 L585.5,656.4 L582.5,656.7 L579.5,656.9 L576.5,657.1 L573.5,657.3 L570.5,657.5 L567.5,657.8 L564.5,658.0 L561.5,658.3 L558.5,658.5 L555.6,658.8 L552.6,659.0 L549.6,659.3 L546.6,659.5 L543.6,659.8 L540.6,660.0 L537.7,660.3 L534.7,660.6 L531.7,660.8 L528.7,661.1 L525.8,661.3 L522.8,661.6 L519.8,661.8 L516.8,662.0 L513.8,662.3 L510.8,662.5 L507.8,662.7 L504.8,662.9 L501.8,663.1 L498.8,663.3 L495.8,663.5 L492.8,663.7 L489.8,663.9 L486.8,664.0 L483.8,664.2 L480.8,664.4 L477.7,664.6 L474.7,664.8 L471.7,665.0 L468.7,665.3 L465.7,665.6 L462.7,665.9 L459.8,666.3 L456.8,666.7 L453.9,667.2 L450.9,667.7 L448.0,668.3 L445.1,669.0 L442.2,669.7 L439.4,670.5 L436.5,671.3 L433.7,672.2 L430.9,673.1 L428.1,674.1 L425.3,675.2 L422.5,676.3 L419.8,677.4 L417.0,678.6 L414.3,679.8 L411.6,681.0 L408.9,682.3 L406.2,683.7 L403.6,685.1 L400.9,686.5 L398.3,687.9 L395.7,689.4 L393.1,690.9 L390.5,692.4 L387.9,694.0 L385.4,695.6 L382.9,697.2 L380.3,698.8 L377.8,700.5 L375.3,702.1 L372.9,703.8 L370.4,705.5 L367.9,707.3 L365.5,709.0 L363.0,710.8 L360.6,712.5 L358.2,714.3 L355.8,716.1 L353.3,717.9 L350.9,719.7 L348.5,721.5 L346.1,723.3 L343.7,725.1 L341.3,726.9 L338.9,728.7 L336.6,730.5 L334.2,732.4 L331.8,734.2 L329.4,736.0 L327.0,737.8 L324.5,739.5 L322.1,741.3 L319.7,743.1 L317.3,744.8 L314.8,746.6 L312.4,748.3 L310.0,750.0 L307.5,751.7 L305.0,753.4 L302.5,755.0 L300.0,756.7 L297.5,758.3 L295.0,759.9 L292.5,761.4 L289.9,763.0 L287.3,764.5 L284.7,766.0 L282.1,767.4 L279.5,768.8 L276.9,770.2 L274.2,771.6 L271.5,772.9 L268.8,774.2 L266.1,775.4 L263.3,776.6 L260.5,777.8 L257.7,778.9 L254.9,780.0 L252.0,781.0" fill="none" stroke="#ff80ff" stroke-width="4.3" stroke-linejoin="round" stroke-dasharray="12 10.3" stroke-dashoffset="0"/><path d="M252.0,974.6 L255.2,974.7 L258.2,974.5 L261.2,974.1 L264.1,973.5 L266.9,972.6 L269.7,971.6 L272.3,970.4 L274.9,969.0 L277.4,967.5 L279.9,965.9 L282.3,964.2 L284.7,962.4 L287.0,960.5 L289.3,958.6 L291.6,956.6 L293.8,954.6 L296.1,952.6 L298.2,950.5 L300.4,948.4 L302.5,946.3 L304.6,944.2 L306.7,942.0 L308.8,939.8 L310.8,937.6 L312.8,935.3 L314.9,933.1 L316.9,930.8 L318.8,928.5 L320.8,926.2 L322.8,923.9 L324.7,921.6 L326.7,919.3 L328.6,917.0 L330.5,914.7 L332.5,912.3 L334.4,910.0 L336.3,907.7 L338.2,905.4 L340.1,903.0 L342.0,900.7 L343.9,898.4 L345.8,896.1 L347.7,893.7 L349.6,891.4 L351.5,889.1 L353.4,886.8 L355.3,884.4 L357.2,882.1 L359.1,879.8 L361.0,877.5 L362.9,875.1 L364.8,872.8 L366.7,870.5 L368.6,868.2 L370.5,865.9 L372.4,863.6 L374.3,861.2 L376.2,858.9 L378.2,856.6 L380.1,854.3 L382.0,852.0 L383.9,849.7 L385.8,847.4 L387.8,845.1 L389.7,842.9 L391.6,840.6 L393.6,838.3 L395.5,836.0 L397.5,833.7 L399.4,831.4 L401.4,829.2 L403.3,826.9 L405.3,824.6 L407.3,822.3 L409.2,820.1 L411.2,817.8 L413.2,815.6 L415.1,813.3 L417.1,811.0 L419.1,808.8 L421.1,806.5 L423.0,804.3 L425.0,802.0 L427.0,799.8 L429.0,797.5 L431.0,795.3 L433.0,793.0 L435.0,790.8 L437.0,788.5 L439.0,786.3 L441.0,784.1 L443.0,781.8 L445.0,779.6 L447.0,777.4 L449.0,775.1 L451.0,772.9 L453.1,770.7 L455.1,768.4 L457.1,766.2 L459.1,764.0 L461.1,761.8 L463.1,759.5 L465.2,757.3 L467.2,755.1 L469.2,752.9 L471.2,750.6 L473.3,748.4 L475.3,746.2 L477.3,744.0 L479.3,741.7 L481.4,739.5 L483.4,737.3 L485.4,735.1 L487.5,732.9 L489.5,730.7 L491.5,728.4 L493.6,726.2 L495.6,724.0 L497.6,721.8 L499.7,719.6 L501.7,717.4 L503.7,715.1 L505.8,712.9 L507.8,710.7 L509.8,708.5 L511.9,706.3 L513.9,704.1 L516.0,701.9 L518.0,699.7 L520.1,697.5 L522.2,695.3 L524.2,693.1 L526.3,691.0 L528.4,688.8 L530.5,686.6 L532.6,684.5 L534.7,682.3 L536.8,680.2 L538.9,678.1 L541.0,676.0 L543.2,673.9 L545.3,671.8 L547.5,669.7 L549.6,667.6 L551.8,665.6 L554.0,663.6 L556.2,661.5 L558.5,659.5 L560.7,657.5 L563.0,655.5 L565.2,653.6 L567.5,651.6 L569.8,649.7 L572.1,647.8 L574.5,645.9 L576.8,644.1 L579.2,642.2 L581.6,640.4 L584.0,638.6 L586.4,636.8 L588.8,635.0 L591.3,633.3 L593.8,631.6 L596.3,629.9 L598.8,628.2 L601.4,626.6 L603.9,625.0 L606.5,623.5 L609.1,622.0 L611.7,620.5 L614.3,619.0 L617.0,617.6 L619.7,616.3 L622.4,615.0 L625.1,613.7 L627.8,612.5 L630.5,611.3 L633.3,610.2 L636.1,609.1 L638.9,608.1 L641.7,607.1 L644.5,606.2 L647.3,605.2 L650.2,604.4 L653.1,603.5 L655.9,602.7 L658.8,602.0 L661.7,601.2 L664.6,600.5 L667.6,599.8 L670.5,599.1 L673.4,598.5 L676.4,597.8 L679.3,597.2 L682.3,596.6 L685.2,596.0 L688.2,595.4 L691.1,594.8 L694.1,594.3 L697.1,593.7 L700.1,593.1 L703.0,592.5 L706.0,592.0 L709.0,591.4 L711.9,590.8 L714.9,590.2 L717.9,589.6 L720.8,588.9 L723.8,588.3 L726.7,587.6 L729.7,586.9 L732.6,586.3 L735.6,585.6 L738.5,584.9 L741.5,584.1 L744.4,583.4 L747.3,582.7 L750.3,581.9 L753.2,581.2 L756.1,580.5 L759.0,579.7 L762.0,579.0 L764.9,578.3 L767.8,577.5 L770.7,576.8 L773.6,576.1 L776.6,575.4 L779.5,574.7 L782.4,574.0 L785.3,573.3 L788.3,572.6 L791.2,572.0 L794.1,571.4 L797.0,570.8 L800.0,570.2 L802.9,569.6 L805.9,569.0 L808.8,568.5 L811.7,568.0 L814.7,567.5 L817.6,567.1 L820.6,566.7 L823.6,566.3 L826.5,565.9 L829.5,565.6 L832.4,565.3 L835.4,565.0 L838.4,564.7 L841.4,564.4 L844.4,564.2 L847.3,564.0 L850.3,563.8 L853.3,563.6 L856.3,563.4 L859.3,563.3 L862.3,563.1 L865.3,563.0 L868.3,562.9 L871.3,562.8 L874.3,562.7 L877.3,562.6 L880.3,562.5 L883.3,562.5 L886.3,562.4 L889.3,562.4 L892.3,562.3 L895.3,562.3 L898.3,562.2 L901.4,562.2 L904.4,562.2 L907.4,562.1 L910.4,562.1 L913.4,562.1 L916.4,562.0 L919.4,562.0 L922.4,562.0 L925.4,561.9 L928.5,561.9 L931.5,561.8 L934.5,561.7 L937.5,561.7 L940.5,561.6 L943.5,561.5 L946.5,561.4 L949.5,561.3 L952.5,561.2 L955.5,561.0 L958.5,560.9 L961.5,560.7 L964.5,560.5 L967.5,560.3 L970.5,560.1 L973.5,559.9 L976.5,559.6 L979.5,559.3 L982.5,559.0 L985.5,558.7 L988.4,558.3 L991.4,558.0 L994.4,557.6 L997.4,557.2 L1000.3,556.8 L1003.3,556.3 L1006.3,555.9 L1009.2,555.4 L1012.2,554.9 L1015.2,554.4 L1018.1,553.9 L1021.1,553.3 L1024.0,552.8 L1027.0,552.2 L1029.9,551.6 L1032.9,551.0 L1035.8,550.4 L1038.7,549.8 L1041.7,549.1 L1044.6,548.5 L1047.5,547.8 L1050.4,547.2 L1053.4,546.5 L1056.3,545.8 L1059.2,545.1 L1062.1,544.4 L1065.0,543.6 L1067.9,542.9 L1070.9,542.1 L1073.8,541.4 L1076.7,540.6 L1079.6,539.9 L1082.5,539.1 L1085.4,538.4 L1088.3,537.6 L1091.2,536.9 L1094.1,536.2 L1097.0,535.6 L1099.9,534.9 L1102.9,534.3 L1105.8,533.7 L1108.8,533.2 L1111.7,532.7 L1114.7,532.3 L1117.7,531.9 L1120.7,531.5 L1123.7,531.2 L1126.7,530.9 L1129.7,530.6 L1132.8,530.3 L1135.8,530.1 L1138.8,529.9 L1141.8,529.7 L1144.9,529.5 L1147.9,529.4 L1150.9,529.2 L1153.9,529.1 L1157.0,528.9 L1160.0,528.8 L1163.0,528.7 L1166.0,528.6 L1169.0,528.5 L1172.0,528.5 L1175.0,528.4 L1178.0,528.4 L1181.0,528.4 L1184.0,528.5 L1187.0,528.6 L1190.0,528.7 L1192.9,528.8 L1195.9,529.0 L1198.8,529.2 L1201.8,529.5 L1204.7,529.8 L1207.7,530.2 L1210.6,530.6 L1213.5,531.1 L1216.4,531.6 L1219.3,532.1 L1222.2,532.8 L1225.1,533.5 L1228.0,534.2 L1230.8,535.0 L1233.7,535.9 L1236.5,536.8 L1239.4,537.8 L1242.2,538.8 L1245.1,539.7 L1247.9,540.6 L1250.8,541.5 L1253.6,542.3 L1256.5,543.0 L1259.5,543.7 L1262.4,544.2 L1265.3,544.7 L1268.3,545.0 L1271.2,545.2 L1274.2,545.4 L1277.2,545.5 L1280.1,545.4 L1283.1,545.3 L1286.1,545.1 L1289.1,544.8 L1292.0,544.4 L1295.0,543.9 L1297.9,543.3 L1300.8,542.7 L1303.8,542.0 L1306.7,541.2 L1309.6,540.4 L1312.5,539.4 L1315.3,538.4 L1318.2,537.4 L1321.0,536.3 L1323.9,535.1 L1326.7,533.9 L1329.4,532.7 L1332.2,531.4 L1334.9,530.0 L1337.7,528.6 L1340.3,527.2 L1343.0,525.7 L1345.7,524.3 L1348.3,522.7 L1350.9,521.2 L1353.4,519.6 L1356.0,518.0 L1358.5,516.4 L1361.0,514.7 L1363.5,513.0 L1365.9,511.3 L1368.4,509.6 L1370.8,507.8 L1373.1,506.0 L1375.5,504.2 L1377.9,502.4 L1380.2,500.5 L1382.5,498.6 L1384.8,496.7 L1387.1,494.8 L1389.3,492.8 L1391.5,490.9 L1393.8,488.9 L1396.0,486.9 L1398.1,484.8 L1400.3,482.8 L1402.5,480.7 L1404.6,478.6 L1406.7,476.5 L1408.8,474.4 L1410.9,472.3 L1413.0,470.1 L1415.1,468.0 L1417.1,465.8 L1419.2,463.6 L1421.2,461.4 L1423.2,459.2 L1425.2,456.9 L1427.2,454.7 L1429.2,452.5 L1431.2,450.2 L1433.2,447.9 L1435.1,445.6 L1437.1,443.3 L1439.0,441.0 L1441.0,438.7 L1442.9,436.4 L1444.8,434.1 L1446.7,431.7 L1448.6,429.4 L1450.6,427.0 L1452.5,424.7 L1454.4,422.3 L1456.2,420.0 L1458.1,417.6 L1460.0,415.3 L1461.9,412.9 L1463.8,410.5 L1465.7,408.1 L1467.5,405.8 L1469.4,403.4 L1471.3,401.0 L1473.2,398.7 L1475.0,396.3 L1476.9,393.9 L1478.8,391.6 L1480.7,389.2 L1482.6,386.8 L1484.4,384.5 L1486.3,382.1 L1488.2,379.8 L1490.1,377.4 L1492.0,375.1 L1493.9,372.8 L1495.8,370.4 L1497.7,368.1 L1499.7,365.8 L1501.6,363.6 L1503.6,361.3 L1505.5,359.0 L1507.5,356.8 L1509.5,354.6 L1511.5,352.4 L1513.5,350.2 L1515.6,348.0 L1517.6,345.8 L1519.7,343.7 L1521.8,341.6 L1524.0,339.5 L1526.1,337.5 L1528.3,335.4 L1530.5,333.4 L1532.7,331.4 L1535.0,329.5 L1537.3,327.6 L1539.6,325.7 L1541.9,323.8 L1544.3,322.0 L1546.7,320.2 L1549.1,318.4 L1551.6,316.7 L1554.1,315.0 L1556.6,313.4 L1559.2,311.7 L1561.8,310.1 L1564.3,308.5 L1566.9,306.8 L1569.4,305.2 L1572.0,303.5 L1574.5,301.9 L1577.0,300.2 L1579.5,298.4 L1581.9,296.7 L1584.3,294.8 L1586.6,293.0 L1588.8,291.0 L1591.0,289.0" fill="none" stroke="#008000" stroke-width="4.3" stroke-linejoin="round" stroke-dasharray="30 12 6 13" stroke-dashoffset="0"/><path d="M284.3,934.0 L285.6,931.3 L287.0,928.5 L288.4,925.8 L289.9,923.2 L291.3,920.5 L292.8,917.9 L294.3,915.3 L295.9,912.7 L297.5,910.2 L299.1,907.7 L300.7,905.1 L302.3,902.7 L304.0,900.2 L305.7,897.7 L307.4,895.3 L309.1,892.8 L310.8,890.4 L312.6,888.0 L314.3,885.6 L316.1,883.2 L317.9,880.8 L319.7,878.4 L321.5,876.1 L323.3,873.7 L325.2,871.3 L327.0,869.0 L328.8,866.6 L330.7,864.3 L332.5,861.9 L334.4,859.5 L336.2,857.2 L338.0,854.8 L339.9,852.5 L341.7,850.1 L343.6,847.7 L345.4,845.3 L347.2,843.0 L349.1,840.6 L350.9,838.2 L352.8,835.8 L354.6,833.5 L356.5,831.1 L358.3,828.7 L360.2,826.3 L362.0,824.0 L363.9,821.6 L365.8,819.2 L367.6,816.9 L369.5,814.5 L371.4,812.2 L373.3,809.8 L375.2,807.5 L377.1,805.2 L379.0,802.8 L380.9,800.5 L382.9,798.2 L384.8,795.9 L386.8,793.6 L388.7,791.3 L390.7,789.1 L392.7,786.8 L394.7,784.6 L396.7,782.3 L398.7,780.1 L400.7,777.9 L402.7,775.7 L404.8,773.5 L406.9,771.4 L408.9,769.2 L411.0,767.1 L413.2,765.0 L415.3,762.9 L417.4,760.8 L419.6,758.7 L421.7,756.6 L423.9,754.6 L426.1,752.6 L428.3,750.5 L430.5,748.5 L432.8,746.6 L435.0,744.6 L437.3,742.6 L439.5,740.7 L441.8,738.7 L444.1,736.8 L446.4,734.9 L448.7,733.0 L451.1,731.1 L453.4,729.2 L455.7,727.3 L458.1,725.5 L460.4,723.6 L462.8,721.8 L465.2,719.9 L467.6,718.1 L469.9,716.3 L472.3,714.5 L474.8,712.7 L477.2,710.9 L479.6,709.1 L482.0,707.3 L484.4,705.6 L486.9,703.8 L489.3,702.1 L491.8,700.3 L494.2,698.6 L496.7,696.8 L499.2,695.1 L501.6,693.4 L504.1,691.7 L506.6,690.0 L509.1,688.3 L511.6,686.7 L514.1,685.0 L516.6,683.4 L519.2,681.8 L521.7,680.1 L524.2,678.6 L526.8,677.0 L529.4,675.4 L531.9,673.9 L534.5,672.4 L537.1,670.9 L539.7,669.4 L542.3,668.0 L544.9,666.6 L547.6,665.2 L550.2,663.8 L552.8,662.4 L555.5,661.1 L558.2,659.8 L560.9,658.6 L563.6,657.4 L566.3,656.2 L569.1,655.1 L571.8,654.0 L574.6,652.9 L577.4,651.9 L580.2,651.0 L583.1,650.1 L585.9,649.2 L588.8,648.3 L591.7,647.5 L594.6,646.8 L597.5,646.0 L600.4,645.3 L603.3,644.6 L606.2,643.9 L609.2,643.3 L612.1,642.7 L615.0,642.1 L618.0,641.5 L621.0,640.9 L623.9,640.3 L626.9,639.8 L629.8,639.3 L632.8,638.7 L635.8,638.2 L638.8,637.7 L641.7,637.3 L644.7,636.8 L647.7,636.4 L650.7,635.9 L653.7,635.5 L656.7,635.1 L659.6,634.7 L662.6,634.3 L665.6,634.0 L668.6,633.6 L671.6,633.3 L674.6,633.0 L677.6,632.7 L680.6,632.4 L683.6,632.2 L686.6,631.9 L689.6,631.7 L692.6,631.5 L695.6,631.2 L698.6,631.1 L701.6,630.9 L704.6,630.7 L707.6,630.6 L710.5,630.5 L713.5,630.4 L716.5,630.3 L719.5,630.2 L722.5,630.1 L725.5,630.1 L728.5,630.1 L731.4,630.1 L734.4,630.1 L737.4,630.1 L740.4,630.1 L743.4,630.2 L746.3,630.2 L749.3,630.3 L752.3,630.4 L755.3,630.6 L758.2,630.7 L761.2,630.8 L764.2,631.0 L767.2,631.2 L770.2,631.4 L773.1,631.6 L776.1,631.8 L779.1,632.1 L782.1,632.3 L785.1,632.6 L788.1,632.9 L791.1,633.2 L794.1,633.5 L797.1,633.8 L800.1,634.2 L803.1,634.5 L806.1,634.9 L809.1,635.3 L812.1,635.7 L815.1,636.1 L818.1,636.5 L821.1,637.0 L824.2,637.4 L827.2,637.9 L830.2,638.4 L833.3,638.8 L836.3,639.3 L839.3,639.7 L842.3,640.1 L845.4,640.5 L848.4,640.8 L851.4,641.1 L854.4,641.4 L857.3,641.6 L860.3,641.7 L863.3,641.8 L866.2,641.7 L869.1,641.6 L872.0,641.4 L874.9,641.1 L877.7,640.7 L880.5,640.2 L883.3,639.6 L886.1,638.8 L888.9,638.0 L891.6,637.0 L894.3,635.9 L897.0,634.8 L899.7,633.5 L902.3,632.2 L905.0,630.8 L907.6,629.3 L910.2,627.8 L912.8,626.3 L915.4,624.7 L918.0,623.0 L920.6,621.4 L923.2,619.7 L925.8,618.0 L928.4,616.4 L931.0,614.7 L933.6,613.0 L936.2,611.4 L938.8,609.8 L941.5,608.2 L944.1,606.7 L946.8,605.2 L949.5,603.8 L952.2,602.5 L954.9,601.2 L957.6,600.0 L960.4,598.8 L963.2,597.8 L966.0,596.8 L968.8,595.9 L971.6,595.0 L974.5,594.2 L977.3,593.4 L980.2,592.7 L983.1,592.0 L986.0,591.4 L988.9,590.9 L991.8,590.3 L994.8,589.8 L997.7,589.4 L1000.6,589.0 L1003.6,588.6 L1006.6,588.2 L1009.5,587.9 L1012.5,587.5 L1015.5,587.3 L1018.5,587.0 L1021.5,586.8 L1024.5,586.6 L1027.5,586.4 L1030.5,586.2 L1033.5,586.0 L1036.5,585.9 L1039.5,585.8 L1042.5,585.7 L1045.5,585.6 L1048.6,585.5 L1051.6,585.5 L1054.6,585.4 L1057.6,585.4 L1060.7,585.3 L1063.7,585.3 L1066.7,585.3 L1069.8,585.3 L1072.8,585.3 L1075.8,585.3 L1078.8,585.3 L1081.9,585.3 L1084.9,585.3 L1087.9,585.3 L1090.9,585.3 L1093.9,585.3 L1096.9,585.3 L1099.9,585.3 L1102.9,585.2 L1105.9,585.2 L1108.9,585.2 L1111.9,585.2 L1114.9,585.1 L1117.9,585.1 L1120.9,585.1 L1123.9,585.0 L1126.9,585.0 L1129.9,584.9 L1132.9,584.9 L1135.8,584.8 L1138.8,584.8 L1141.8,584.7 L1144.8,584.6 L1147.8,584.5 L1150.7,584.5 L1153.7,584.4 L1156.7,584.3 L1159.7,584.2 L1162.7,584.1 L1165.6,584.0 L1168.6,583.9 L1171.6,583.8 L1174.6,583.7 L1177.6,583.6 L1180.6,583.5 L1183.5,583.4 L1186.5,583.3 L1189.5,583.2 L1192.5,583.0 L1195.5,582.9 L1198.5,582.8 L1201.5,582.7 L1204.5,582.5 L1207.5,582.4 L1210.5,582.3 L1213.6,582.1 L1216.6,582.0 L1219.6,581.8 L1222.6,581.7 L1225.6,581.5 L1228.7,581.3 L1231.7,581.2 L1234.7,581.0 L1237.8,580.8 L1240.8,580.6 L1243.8,580.4 L1246.9,580.1 L1249.9,579.9 L1252.9,579.6 L1255.9,579.3 L1258.9,579.0 L1261.9,578.6 L1264.9,578.3 L1267.9,577.8 L1270.8,577.4 L1273.8,576.9 L1276.7,576.4 L1279.7,575.9 L1282.6,575.3 L1285.5,574.7 L1288.4,574.0 L1291.3,573.3 L1294.1,572.6 L1297.0,571.8 L1299.8,570.9 L1302.6,570.0 L1305.4,569.1 L1308.1,568.1 L1310.9,567.0 L1313.6,565.9 L1316.3,564.7 L1319.0,563.5 L1321.6,562.2 L1324.3,560.9 L1326.9,559.5 L1329.5,558.1 L1332.0,556.6 L1334.6,555.1 L1337.1,553.5 L1339.7,551.9 L1342.2,550.3 L1344.7,548.6 L1347.2,547.0 L1349.6,545.2 L1352.1,543.5 L1354.6,541.8 L1357.0,540.0 L1359.5,538.2 L1361.9,536.4 L1364.3,534.6 L1366.7,532.7 L1369.2,530.9 L1371.6,529.1 L1374.0,527.2 L1376.4,525.4 L1378.8,523.6 L1381.3,521.8 L1383.7,519.9 L1386.1,518.1 L1388.5,516.3 L1390.9,514.5 L1393.3,512.6 L1395.7,510.8 L1398.2,509.0 L1400.6,507.2 L1403.0,505.4 L1405.4,503.5 L1407.8,501.7 L1410.2,499.9 L1412.6,498.1 L1415.0,496.2 L1417.3,494.4 L1419.7,492.6 L1422.1,490.7 L1424.5,488.9 L1426.9,487.1 L1429.2,485.2 L1431.6,483.4 L1434.0,481.5 L1436.3,479.7 L1438.7,477.8 L1441.0,476.0 L1443.4,474.1 L1445.7,472.3 L1448.1,470.4 L1450.4,468.5 L1452.7,466.7 L1455.1,464.8 L1457.4,462.9 L1459.7,461.0 L1462.0,459.1 L1464.3,457.2 L1466.6,455.3 L1468.9,453.4 L1471.2,451.4 L1473.5,449.5 L1475.7,447.6 L1478.0,445.6 L1480.2,443.7 L1482.5,441.7 L1484.7,439.7 L1487.0,437.8 L1489.2,435.8 L1491.4,433.8 L1493.6,431.8 L1495.9,429.8 L1498.1,427.7 L1500.2,425.7 L1502.4,423.7 L1504.6,421.6 L1506.8,419.6 L1508.9,417.5 L1511.1,415.4 L1513.2,413.3 L1515.3,411.2 L1517.5,409.1 L1519.6,407.0 L1521.7,404.8 L1523.8,402.7 L1525.9,400.5 L1527.9,398.4 L1530.0,396.2 L1532.1,394.0 L1534.1,391.8 L1536.1,389.5 L1538.1,387.3 L1540.1,385.0 L1542.1,382.8 L1544.1,380.5 L1546.1,378.2 L1548.0,375.9 L1549.9,373.6 L1551.8,371.2 L1553.6,368.8 L1555.5,366.5 L1557.3,364.1 L1559.1,361.6 L1560.8,359.2 L1562.5,356.8 L1564.2,354.3 L1565.9,351.8 L1567.5,349.3 L1569.1,346.7 L1570.6,344.2 L1572.2,341.6 L1573.7,339.0 L1575.1,336.5 L1576.6,333.9 L1578.1,331.3 L1579.5,328.6 L1580.9,326.0 L1582.3,323.4 L1583.8,320.8 L1585.2,318.1 L1586.6,315.5 L1588.0,312.9 L1589.4,310.2 L1590.8,307.6 L1592.1,305.0 L1593.5,302.3 L1594.8,299.7 L1596.2,297.0 L1597.5,294.4 L1598.7,291.7 L1600.0,289.0" fill="none" stroke="#008000" stroke-width="4.3" stroke-linejoin="round" stroke-dasharray="6 12 30 13" stroke-dashoffset="0"/><path d="M251.5,772.0 L253.7,769.9 L256.0,767.9 L258.3,766.0 L260.6,764.0 L263.0,762.1 L265.3,760.2 L267.7,758.4 L270.1,756.6 L272.6,754.9 L275.0,753.1 L277.5,751.4 L279.9,749.8 L282.4,748.1 L285.0,746.5 L287.5,744.9 L290.1,743.4 L292.6,741.9 L295.2,740.4 L297.8,738.9 L300.4,737.5 L303.1,736.1 L305.7,734.7 L308.4,733.3 L311.0,731.9 L313.7,730.6 L316.4,729.3 L319.1,728.0 L321.8,726.7 L324.5,725.5 L327.3,724.2 L330.0,723.0 L332.7,721.8 L335.5,720.6 L338.3,719.4 L341.0,718.2 L343.8,717.1 L346.6,715.9 L349.4,714.8 L352.2,713.7 L355.0,712.6 L357.7,711.4 L360.5,710.3 L363.3,709.2 L366.2,708.1 L369.0,707.1 L371.8,706.0 L374.6,704.9 L377.4,703.8 L380.2,702.7 L383.0,701.7 L385.8,700.6 L388.6,699.5 L391.4,698.4 L394.2,697.3 L397.0,696.2 L399.8,695.1 L402.6,694.0 L405.4,692.9 L408.2,691.8 L411.0,690.7 L413.7,689.6 L416.5,688.4 L419.3,687.3 L422.0,686.1 L424.8,684.9 L427.5,683.8 L430.3,682.6 L433.0,681.3 L435.8,680.1 L438.5,678.9 L441.2,677.6 L443.9,676.3 L446.6,675.0 L449.3,673.7 L451.9,672.4 L454.6,671.0 L457.3,669.7 L459.9,668.3 L462.6,666.9 L465.2,665.6 L467.9,664.2 L470.5,662.8 L473.2,661.4 L475.8,659.9 L478.5,658.5 L481.1,657.1 L483.7,655.7 L486.4,654.3 L489.0,652.8 L491.6,651.4 L494.3,650.0 L496.9,648.5 L499.6,647.1 L502.2,645.7 L504.8,644.3 L507.5,642.9 L510.1,641.5 L512.8,640.1 L515.5,638.7 L518.1,637.3 L520.8,635.9 L523.5,634.6 L526.2,633.2 L528.9,631.9 L531.6,630.5 L534.3,629.2 L537.0,627.9 L539.7,626.5 L542.4,625.2 L545.1,623.9 L547.8,622.7 L550.5,621.4 L553.3,620.1 L556.0,618.8 L558.7,617.6 L561.5,616.4 L564.2,615.1 L567.0,613.9 L569.7,612.7 L572.5,611.5 L575.2,610.3 L578.0,609.1 L580.8,608.0 L583.6,606.8 L586.3,605.6 L589.1,604.5 L591.9,603.4 L594.7,602.3 L597.5,601.2 L600.3,600.1 L603.1,599.0 L605.9,597.9 L608.7,596.9 L611.5,595.8 L614.3,594.8 L617.2,593.8 L620.0,592.8 L622.8,591.8 L625.6,590.8 L628.5,589.8 L631.3,588.9 L634.2,588.0 L637.0,587.0 L639.8,586.1 L642.7,585.2 L645.6,584.3 L648.4,583.4 L651.3,582.6 L654.1,581.7 L657.0,580.9 L659.9,580.0 L662.8,579.2 L665.6,578.4 L668.5,577.6 L671.4,576.8 L674.3,576.0 L677.2,575.2 L680.1,574.5 L683.0,573.7 L685.9,573.0 L688.8,572.3 L691.7,571.6 L694.6,570.9 L697.5,570.2 L700.4,569.5 L703.3,568.8 L706.2,568.1 L709.2,567.5 L712.1,566.8 L715.0,566.2 L717.9,565.6 L720.9,564.9 L723.8,564.3 L726.7,563.7 L729.7,563.1 L732.6,562.5 L735.5,562.0 L738.5,561.4 L741.4,560.8 L744.4,560.3 L747.3,559.7 L750.3,559.2 L753.2,558.7 L756.2,558.1 L759.1,557.6 L762.1,557.1 L765.0,556.6 L768.0,556.1 L771.0,555.6 L773.9,555.1 L776.9,554.7 L779.9,554.2 L782.8,553.7 L785.8,553.3 L788.8,552.8 L791.7,552.4 L794.7,552.0 L797.7,551.5 L800.7,551.1 L803.6,550.7 L806.6,550.3 L809.6,549.9 L812.6,549.5 L815.6,549.1 L818.5,548.7 L821.5,548.3 L824.5,547.9 L827.5,547.5 L830.5,547.2 L833.5,546.8 L836.5,546.4 L839.4,546.1 L842.4,545.7 L845.4,545.4 L848.4,545.0 L851.4,544.7 L854.4,544.4 L857.4,544.0 L860.4,543.7 L863.4,543.4 L866.4,543.0 L869.4,542.7 L872.4,542.4 L875.4,542.1 L878.3,541.8 L881.3,541.4 L884.3,541.1 L887.3,540.8 L890.3,540.5 L893.3,540.2 L896.3,539.9 L899.3,539.6 L902.3,539.3 L905.3,539.0 L908.3,538.7 L911.3,538.4 L914.3,538.2 L917.3,537.9 L920.3,537.6 L923.3,537.3 L926.3,537.0 L929.2,536.7 L932.2,536.4 L935.2,536.1 L938.2,535.9 L941.2,535.6 L944.2,535.3 L947.2,535.0 L950.2,534.7 L953.2,534.4 L956.1,534.2 L959.1,533.9 L962.1,533.6 L965.1,533.3 L968.1,533.0 L971.1,532.7 L974.0,532.4 L977.0,532.2 L980.0,531.9 L983.0,531.6 L986.0,531.3 L988.9,531.0 L991.9,530.7 L994.9,530.4 L997.8,530.1 L1000.8,529.8 L1003.8,529.5 L1006.7,529.1 L1009.7,528.8 L1012.7,528.5 L1015.6,528.2 L1018.6,527.8 L1021.6,527.5 L1024.5,527.1 L1027.5,526.8 L1030.4,526.4 L1033.4,526.0 L1036.4,525.6 L1039.3,525.2 L1042.3,524.8 L1045.2,524.4 L1048.2,523.9 L1051.1,523.5 L1054.1,523.0 L1057.0,522.5 L1060.0,522.0 L1063.0,521.5 L1065.9,521.0 L1068.9,520.5 L1071.8,519.9 L1074.8,519.3 L1077.7,518.7 L1080.7,518.1 L1083.6,517.5 L1086.6,516.8 L1089.5,516.2 L1092.5,515.6 L1095.4,514.9 L1098.4,514.2 L1101.3,513.6 L1104.3,512.9 L1107.2,512.2 L1110.1,511.6 L1113.1,510.9 L1116.0,510.3 L1119.0,509.6 L1121.9,509.0 L1124.9,508.3 L1127.8,507.7 L1130.7,507.0 L1133.7,506.4 L1136.6,505.8 L1139.6,505.2 L1142.5,504.5 L1145.4,503.9 L1148.3,503.3 L1151.3,502.6 L1154.2,502.0 L1157.1,501.3 L1160.0,500.6 L1162.9,500.0 L1165.8,499.3 L1168.7,498.6 L1171.6,497.8 L1174.5,497.1 L1177.4,496.3 L1180.2,495.6 L1183.1,494.8 L1186.0,493.9 L1188.8,493.1 L1191.7,492.2 L1194.5,491.3 L1197.3,490.4 L1200.1,489.5 L1203.0,488.5 L1205.8,487.5 L1208.6,486.4 L1211.3,485.4 L1214.1,484.3 L1216.9,483.2 L1219.7,482.1 L1222.5,481.0 L1225.3,479.9 L1228.0,478.8 L1230.8,477.7 L1233.6,476.5 L1236.4,475.4 L1239.2,474.3 L1242.0,473.2 L1244.8,472.1 L1247.5,471.0 L1250.3,469.9 L1253.2,468.9 L1256.0,467.8 L1258.8,466.8 L1261.6,465.8 L1264.4,464.7 L1267.2,463.7 L1270.0,462.8 L1272.9,461.8 L1275.7,460.8 L1278.5,459.9 L1281.4,458.9 L1284.2,458.0 L1287.1,457.1 L1289.9,456.2 L1292.8,455.3 L1295.6,454.4 L1298.5,453.5 L1301.4,452.7 L1304.3,451.8 L1307.1,451.0 L1310.0,450.2 L1312.9,449.4 L1315.8,448.6 L1318.7,447.8 L1321.6,447.1 L1324.6,446.3 L1327.5,445.6 L1330.4,444.9 L1333.3,444.2 L1336.3,443.5 L1339.2,442.8 L1342.2,442.1 L1345.1,441.4 L1348.1,440.7 L1351.0,440.1 L1354.0,439.4 L1356.9,438.7 L1359.8,438.0 L1362.8,437.3 L1365.7,436.6 L1368.6,435.8 L1371.5,435.1 L1374.4,434.3 L1377.3,433.5 L1380.2,432.7 L1383.1,431.8 L1385.9,430.9 L1388.7,430.0 L1391.5,429.0 L1394.3,428.0 L1397.1,426.9 L1399.8,425.8 L1402.6,424.6 L1405.2,423.4 L1407.9,422.2 L1410.6,420.8 L1413.2,419.5 L1415.8,418.1 L1418.4,416.6 L1420.9,415.1 L1423.5,413.6 L1426.0,412.0 L1428.5,410.4 L1431.0,408.7 L1433.4,407.1 L1435.9,405.4 L1438.3,403.6 L1440.7,401.8 L1443.1,400.0 L1445.5,398.2 L1447.9,396.4 L1450.2,394.5 L1452.6,392.7 L1454.9,390.8 L1457.2,388.9 L1459.6,386.9 L1461.9,385.0 L1464.2,383.1 L1466.4,381.1 L1468.7,379.2 L1471.0,377.2 L1473.3,375.2 L1475.5,373.2 L1477.8,371.3 L1480.0,369.3 L1482.3,367.3 L1484.5,365.3 L1486.7,363.2 L1489.0,361.2 L1491.2,359.2 L1493.4,357.2 L1495.6,355.2 L1497.8,353.1 L1500.0,351.1 L1502.2,349.1 L1504.4,347.0 L1506.6,345.0 L1508.9,342.9 L1511.1,340.9 L1513.3,338.9 L1515.5,336.8 L1517.7,334.8 L1519.9,332.8 L1522.1,330.7 L1524.3,328.7 L1526.5,326.7 L1528.7,324.6 L1530.9,322.6 L1533.2,320.6 L1535.4,318.6 L1537.6,316.6 L1539.8,314.6 L1542.1,312.6 L1544.3,310.6 L1546.6,308.7 L1548.8,306.7 L1551.1,304.7 L1553.4,302.8 L1555.7,300.8 L1558.0,298.9 L1560.3,297.0 L1562.6,295.1 L1564.9,293.2 L1567.2,291.3 L1569.5,289.4 L1571.9,287.5 L1574.2,285.7 L1576.6,283.9 L1579.0,282.0 L1581.4,280.2 L1583.8,278.4 L1586.2,276.6 L1588.6,274.9 L1591.1,273.1 L1593.5,271.4 L1596.0,269.7 L1598.5,268.0 L1596.7,270.4 L1594.9,272.8 L1593.2,275.3 L1591.4,277.7 L1589.5,280.1 L1587.7,282.4 L1585.9,284.8 L1584.0,287.2 L1582.2,289.6 L1580.3,291.9 L1578.5,294.3 L1576.6,296.6 L1574.7,298.9 L1572.8,301.2 L1570.9,303.6 L1569.0,305.9 L1567.0,308.2 L1565.1,310.5 L1563.1,312.8 L1561.2,315.0 L1559.2,317.3 L1557.3,319.6 L1555.3,321.8 L1553.3,324.1 L1551.3,326.3 L1549.3,328.6 L1547.3,330.8 L1545.3,333.0 L1543.3,335.3 L1541.2,337.5 L1539.2,339.7 L1537.2,341.9 L1535.1,344.1 L1533.1,346.3 L1531.0,348.5 L1528.9,350.6 L1526.9,352.8 L1524.8,355.0 L1522.7,357.2 L1520.6,359.3 L1518.5,361.5 L1516.4,363.6 L1514.3,365.8 L1512.2,367.9 L1510.1,370.0 L1507.9,372.2 L1505.8,374.3 L1503.7,376.4 L1501.6,378.5 L1499.4,380.7 L1497.3,382.8 L1495.1,384.9 L1493.0,387.0 L1490.8,389.1 L1488.7,391.2 L1486.5,393.3 L1484.3,395.3 L1482.2,397.4 L1480.0,399.5 L1477.8,401.6 L1475.6,403.7 L1473.5,405.7 L1471.3,407.8 L1469.1,409.9 L1466.9,411.9 L1464.7,414.0 L1462.5,416.0 L1460.3,418.1 L1458.1,420.1 L1455.9,422.2 L1453.7,424.2 L1451.5,426.3 L1449.3,428.3 L1447.1,430.3 L1444.9,432.4 L1442.7,434.4 L1440.5,436.4 L1438.3,438.4 L1436.0,440.5 L1433.8,442.5 L1431.6,444.5 L1429.4,446.5 L1427.1,448.5 L1424.9,450.5 L1422.7,452.5 L1420.4,454.5 L1418.2,456.5 L1415.9,458.5 L1413.7,460.5 L1411.4,462.5 L1409.2,464.5 L1406.9,466.5 L1404.7,468.5 L1402.4,470.4 L1400.2,472.4 L1397.9,474.4 L1395.7,476.4 L1393.4,478.3 L1391.1,480.3 L1388.8,482.3 L1386.6,484.2 L1384.3,486.2 L1382.0,488.1 L1379.7,490.1 L1377.5,492.1 L1375.2,494.0 L1372.9,495.9 L1370.6,497.9 L1368.3,499.8 L1366.0,501.8 L1363.7,503.7 L1361.4,505.6 L1359.1,507.6 L1356.8,509.5 L1354.5,511.4 L1352.2,513.4 L1349.9,515.3 L1347.6,517.2 L1345.3,519.1 L1343.0,521.0 L1340.7,522.9 L1338.3,524.9 L1336.0,526.8 L1333.7,528.7 L1331.4,530.6 L1329.0,532.5 L1326.7,534.4 L1324.4,536.3 L1322.1,538.2 L1319.7,540.1 L1317.4,542.0 L1315.0,543.8 L1312.7,545.7 L1310.4,547.6 L1308.0,549.5 L1305.7,551.4 L1303.3,553.3 L1301.0,555.1 L1298.6,557.0 L1296.2,558.9 L1293.9,560.7 L1291.5,562.6 L1289.2,564.5 L1286.8,566.3 L1284.4,568.2 L1282.0,570.0 L1279.6,571.8 L1277.2,573.6 L1274.8,575.4 L1272.4,577.2 L1270.0,579.0 L1267.6,580.8 L1265.1,582.5 L1262.7,584.2 L1260.2,585.9 L1257.8,587.6 L1255.3,589.3 L1252.8,590.9 L1250.3,592.6 L1247.8,594.2 L1245.2,595.8 L1242.7,597.3 L1240.1,598.8 L1237.6,600.3 L1235.0,601.8 L1232.4,603.3 L1229.8,604.7 L1227.1,606.1 L1224.5,607.4 L1221.8,608.7 L1219.1,610.0 L1216.4,611.3 L1213.6,612.5 L1210.9,613.6 L1208.1,614.8 L1205.3,615.9 L1202.5,617.0 L1199.7,618.0 L1196.8,619.0 L1194.0,619.9 L1191.1,620.9 L1188.2,621.8 L1185.3,622.6 L1182.4,623.5 L1179.4,624.3 L1176.5,625.0 L1173.6,625.8 L1170.6,626.5 L1167.7,627.1 L1164.7,627.8 L1161.7,628.4 L1158.7,629.0 L1155.7,629.6 L1152.8,630.1 L1149.8,630.6 L1146.8,631.1 L1143.8,631.5 L1140.8,632.0 L1137.8,632.4 L1134.8,632.8 L1131.8,633.1 L1128.8,633.4 L1125.8,633.8 L1122.8,634.0 L1119.8,634.3 L1116.8,634.6 L1113.9,634.8 L1110.9,635.0 L1107.9,635.2 L1104.9,635.4 L1101.9,635.6 L1098.9,635.7 L1095.9,635.9 L1092.9,636.0 L1090.0,636.1 L1087.0,636.2 L1084.0,636.3 L1081.0,636.4 L1078.0,636.4 L1075.0,636.5 L1072.0,636.6 L1069.0,636.6 L1066.1,636.6 L1063.1,636.7 L1060.1,636.7 L1057.1,636.7 L1054.1,636.8 L1051.1,636.8 L1048.1,636.8 L1045.1,636.8 L1042.1,636.8 L1039.1,636.9 L1036.1,636.9 L1033.2,636.9 L1030.2,637.0 L1027.2,637.0 L1024.2,637.0 L1021.2,637.1 L1018.2,637.1 L1015.2,637.2 L1012.2,637.2 L1009.1,637.3 L1006.1,637.4 L1003.1,637.5 L1000.1,637.6 L997.1,637.7 L994.1,637.9 L991.1,638.0 L988.1,638.2 L985.1,638.3 L982.0,638.5 L979.0,638.7 L976.0,638.9 L973.0,639.2 L970.0,639.5 L966.9,639.8 L963.9,640.1 L960.9,640.4 L957.9,640.8 L954.9,641.2 L951.9,641.7 L949.0,642.2 L946.0,642.7 L943.1,643.3 L940.1,643.9 L937.2,644.5 L934.3,645.3 L931.4,646.0 L928.6,646.8 L925.7,647.7 L922.9,648.7 L920.1,649.7 L917.4,650.7 L914.6,651.8 L911.9,653.0 L909.3,654.3 L906.6,655.6 L904.0,657.1 L901.4,658.5 L898.9,660.1 L896.3,661.6 L893.8,663.3 L891.3,664.9 L888.8,666.6 L886.3,668.3 L883.9,670.1 L881.4,671.8 L879.0,673.6 L876.5,675.4 L874.1,677.1 L871.7,678.9 L869.2,680.6 L866.8,682.4 L864.3,684.1 L861.8,685.8 L859.4,687.5 L856.9,689.2 L854.4,690.8 L851.9,692.5 L849.4,694.1 L846.9,695.8 L844.4,697.4 L841.9,699.1 L839.4,700.7 L836.9,702.3 L834.4,704.0 L831.9,705.6 L829.3,707.2 L826.8,708.9 L824.3,710.5 L821.7,712.2 L819.2,713.9 L816.6,715.5 L814.1,717.2 L811.5,718.9 L808.9,720.5 L806.3,722.2 L803.7,723.8 L801.1,725.4 L798.5,727.0 L795.9,728.5 L793.3,730.0 L790.6,731.5 L787.9,732.9 L785.3,734.3 L782.6,735.6 L779.9,736.8 L777.1,738.0 L774.4,739.1 L771.6,740.1 L768.8,741.1 L766.0,742.0 L763.2,742.8 L760.3,743.5 L757.5,744.1 L754.6,744.7 L751.7,745.1 L748.8,745.6 L745.9,745.9 L742.9,746.1 L740.0,746.3 L737.0,746.5 L734.0,746.5 L731.1,746.5 L728.1,746.5 L725.1,746.4 L722.1,746.2 L719.2,746.0 L716.2,745.7 L713.2,745.4 L710.2,745.0 L707.2,744.7 L704.2,744.2 L701.2,743.8 L698.3,743.3 L695.3,742.8 L692.3,742.3 L689.3,741.7 L686.3,741.2 L683.3,740.6 L680.3,740.1 L677.3,739.5 L674.4,738.9 L671.4,738.4 L668.4,737.9 L665.4,737.3 L662.4,736.8 L659.4,736.4 L656.4,735.9 L653.4,735.5 L650.4,735.1 L647.5,734.7 L644.5,734.4 L641.5,734.1 L638.5,733.9 L635.5,733.7 L632.5,733.5 L629.5,733.3 L626.5,733.2 L623.5,733.1 L620.5,733.0 L617.5,732.9 L614.6,732.8 L611.6,732.8 L608.6,732.8 L605.6,732.7 L602.6,732.7 L599.6,732.7 L596.6,732.6 L593.6,732.6 L590.6,732.6 L587.6,732.6 L584.6,732.5 L581.6,732.5 L578.5,732.4 L575.5,732.4 L572.5,732.3 L569.5,732.3 L566.5,732.2 L563.5,732.1 L560.5,732.0 L557.5,731.9 L554.5,731.7 L551.5,731.6 L548.5,731.4 L545.5,731.3 L542.5,731.1 L539.5,730.8 L536.5,730.6 L533.5,730.3 L530.6,730.0 L527.6,729.7 L524.6,729.4 L521.6,729.1 L518.6,728.8 L515.6,728.4 L512.6,728.0 L509.7,727.7 L506.7,727.3 L503.7,727.0 L500.7,726.6 L497.7,726.3 L494.7,725.9 L491.7,725.6 L488.7,725.3 L485.7,725.0 L482.7,724.7 L479.7,724.5 L476.7,724.3 L473.7,724.1 L470.7,723.9 L467.7,723.7 L464.7,723.5 L461.7,723.4 L458.7,723.3 L455.7,723.2 L452.7,723.2 L449.7,723.2 L446.7,723.1 L443.6,723.2 L440.6,723.2 L437.6,723.3 L434.6,723.4 L431.6,723.5 L428.6,723.6 L425.6,723.8 L422.6,724.0 L419.7,724.2 L416.7,724.4 L413.7,724.7 L410.7,725.0 L407.7,725.3 L404.8,725.7 L401.8,726.1 L398.8,726.5 L395.8,726.9 L392.9,727.3 L389.9,727.7 L387.0,728.2 L384.0,728.7 L381.0,729.1 L378.1,729.6 L375.1,730.1 L372.1,730.7 L369.2,731.2 L366.2,731.7 L363.3,732.3 L360.3,732.8 L357.4,733.4 L354.4,733.9 L351.4,734.5 L348.5,735.0 L345.5,735.6 L342.5,736.1 L339.6,736.7 L336.6,737.3 L333.7,737.9 L330.7,738.5 L327.8,739.1 L324.8,739.7 L321.9,740.4 L319.0,741.0 L316.1,741.7 L313.2,742.4 L310.3,743.2 L307.4,744.0 L304.5,744.8 L301.7,745.7 L298.8,746.6 L296.0,747.5 L293.2,748.5 L290.4,749.5 L287.6,750.6 L284.9,751.7 L282.2,752.9 L279.5,754.1 L276.8,755.4 L274.1,756.7 L271.5,758.2 L268.9,759.6 L266.3,761.2 L263.8,762.8 L261.3,764.5 L258.8,766.2 L256.3,768.1 L253.9,770.0 L251.5,772.0" fill="none" stroke="#0000ff" stroke-width="4.3" stroke-linejoin="round"/><path d="M252.0,925.4 L253.9,923.0 L255.8,920.7 L257.8,918.4 L259.8,916.1 L261.8,913.9 L263.8,911.7 L265.9,909.5 L268.0,907.4 L270.1,905.3 L272.3,903.2 L274.5,901.2 L276.7,899.1 L278.9,897.1 L281.1,895.1 L283.3,893.1 L285.6,891.1 L287.9,889.2 L290.1,887.2 L292.4,885.2 L294.7,883.3 L297.0,881.4 L299.3,879.4 L301.6,877.5 L303.8,875.5 L306.1,873.6 L308.4,871.6 L310.7,869.6 L312.9,867.7 L315.2,865.7 L317.4,863.7 L319.6,861.7 L321.8,859.6 L324.0,857.6 L326.2,855.5 L328.4,853.5 L330.6,851.4 L332.8,849.4 L335.0,847.3 L337.2,845.2 L339.3,843.2 L341.5,841.1 L343.7,839.0 L345.9,837.0 L348.0,834.9 L350.2,832.8 L352.4,830.8 L354.6,828.8 L356.8,826.7 L359.0,824.7 L361.3,822.7 L363.5,820.7 L365.7,818.7 L368.0,816.7 L370.3,814.7 L372.5,812.8 L374.8,810.8 L377.1,808.9 L379.4,807.0 L381.7,805.0 L384.0,803.1 L386.3,801.2 L388.6,799.3 L391.0,797.4 L393.3,795.5 L395.6,793.6 L397.9,791.7 L400.3,789.9 L402.6,788.0 L405.0,786.1 L407.3,784.2 L409.6,782.3 L412.0,780.4 L414.3,778.6 L416.6,776.7 L419.0,774.8 L421.3,772.9 L423.6,771.0 L425.9,769.1 L428.3,767.2 L430.6,765.3 L432.9,763.4 L435.2,761.4 L437.5,759.5 L439.7,757.5 L442.0,755.6 L444.3,753.6 L446.5,751.6 L448.8,749.6 L451.0,747.6 L453.2,745.6 L455.4,743.6 L457.6,741.6 L459.8,739.5 L462.0,737.5 L464.2,735.4 L466.3,733.3 L468.5,731.2 L470.7,729.1 L472.8,727.0 L474.9,724.9 L477.1,722.8 L479.2,720.7 L481.3,718.6 L483.4,716.4 L485.6,714.3 L487.7,712.2 L489.8,710.0 L491.9,707.9 L494.0,705.7 L496.1,703.6 L498.2,701.4 L500.3,699.3 L502.4,697.1 L504.5,695.0 L506.6,692.8 L508.7,690.7 L510.8,688.6 L512.9,686.4 L515.0,684.3 L517.2,682.2 L519.3,680.0 L521.4,677.9 L523.5,675.8 L525.7,673.7 L527.8,671.6 L529.9,669.5 L532.1,667.4 L534.2,665.3 L536.4,663.3 L538.6,661.2 L540.7,659.2 L542.9,657.1 L545.1,655.1 L547.3,653.0 L549.5,651.0 L551.7,649.0 L553.9,646.9 L556.1,644.9 L558.3,642.9 L560.6,640.9 L562.8,638.9 L565.0,637.0 L567.3,635.0 L569.5,633.0 L571.8,631.0 L574.1,629.1 L576.3,627.1 L578.6,625.2 L580.9,623.2 L583.1,621.3 L585.4,619.3 L587.7,617.4 L590.0,615.5 L592.3,613.5 L594.5,611.6 L596.8,609.7 L599.1,607.8 L601.4,605.8 L603.7,603.9 L605.9,602.0 L608.2,600.1 L610.5,598.2 L612.8,596.3 L615.1,594.4 L617.4,592.5 L619.7,590.6 L622.0,588.8 L624.3,587.0 L626.7,585.2 L629.1,583.4 L631.4,581.6 L633.9,579.9 L636.3,578.2 L638.7,576.5 L641.2,574.8 L643.7,573.1 L646.2,571.5 L648.7,569.8 L651.2,568.2 L653.7,566.6 L656.3,564.9 L658.8,563.3 L661.4,561.7 L664.0,560.1 L666.6,558.6 L669.2,557.0 L671.8,555.5 L674.5,554.0 L677.1,552.5 L679.8,551.1 L682.5,549.7 L685.1,548.3 L687.8,546.9 L690.5,545.6 L693.3,544.3 L696.0,543.0 L698.7,541.8 L701.5,540.6 L704.2,539.4 L707.0,538.3 L709.7,537.1 L712.5,536.0 L715.3,534.9 L718.1,533.9 L720.9,532.8 L723.7,531.8 L726.5,530.8 L729.4,529.8 L732.2,528.9 L735.0,527.9 L737.9,527.0 L740.7,526.1 L743.6,525.2 L746.4,524.3 L749.3,523.4 L752.1,522.5 L755.0,521.7 L757.9,520.8 L760.8,520.0 L763.7,519.2 L766.5,518.3 L769.4,517.5 L772.3,516.7 L775.2,515.9 L778.1,515.1 L781.0,514.3 L783.9,513.5 L786.8,512.7 L789.7,511.9 L792.6,511.2 L795.5,510.4 L798.4,509.6 L801.3,508.8 L804.2,508.0 L807.1,507.2 L810.0,506.3 L812.9,505.5 L815.8,504.7 L818.6,503.9 L821.5,503.0 L824.4,502.2 L827.3,501.3 L830.2,500.4 L833.1,499.6 L835.9,498.7 L838.8,497.8 L841.7,496.9 L844.6,496.0 L847.4,495.1 L850.3,494.2 L853.2,493.3 L856.1,492.4 L858.9,491.5 L861.8,490.6 L864.7,489.8 L867.5,488.9 L870.4,488.0 L873.3,487.1 L876.2,486.3 L879.0,485.4 L881.9,484.6 L884.8,483.8 L887.7,483.0 L890.6,482.2 L893.5,481.4 L896.4,480.6 L899.3,479.8 L902.2,479.1 L905.1,478.4 L908.0,477.7 L910.9,477.0 L913.8,476.4 L916.7,475.7 L919.6,475.1 L922.6,474.5 L925.5,474.0 L928.4,473.4 L931.4,472.9 L934.3,472.4 L937.3,472.0 L940.2,471.5 L943.2,471.1 L946.2,470.7 L949.1,470.3 L952.1,469.9 L955.1,469.5 L958.1,469.2 L961.1,468.9 L964.0,468.6 L967.0,468.3 L970.0,468.0 L973.0,467.7 L976.0,467.4 L979.0,467.1 L982.0,466.9 L985.0,466.6 L988.0,466.3 L991.0,466.0 L994.0,465.7 L997.0,465.4 L1000.0,465.0 L1003.0,464.6 L1006.0,464.3 L1009.0,463.9 L1011.9,463.4 L1014.9,463.0 L1017.9,462.5 L1020.8,461.9 L1023.7,461.3 L1026.7,460.7 L1029.6,460.1 L1032.5,459.4 L1035.4,458.7 L1038.3,457.9 L1041.2,457.1 L1044.1,456.3 L1047.0,455.5 L1049.8,454.6 L1052.7,453.7 L1055.6,452.8 L1058.4,451.9 L1061.3,451.0 L1064.2,450.0 L1067.0,449.1 L1069.9,448.1 L1072.7,447.2 L1075.6,446.2 L1078.4,445.2 L1081.3,444.3 L1084.1,443.3 L1087.0,442.4 L1089.8,441.4 L1092.7,440.5 L1095.5,439.5 L1098.4,438.6 L1101.2,437.7 L1104.1,436.7 L1106.9,435.8 L1109.8,434.9 L1112.6,434.0 L1115.5,433.1 L1118.4,432.1 L1121.2,431.2 L1124.1,430.3 L1126.9,429.4 L1129.8,428.5 L1132.6,427.6 L1135.5,426.7 L1138.4,425.8 L1141.2,424.9 L1144.1,424.0 L1146.9,423.0 L1149.8,422.1 L1152.6,421.2 L1155.5,420.3 L1158.3,419.3 L1161.2,418.4 L1164.1,417.5 L1166.9,416.5 L1169.8,415.6 L1172.6,414.6 L1175.5,413.7 L1178.3,412.7 L1181.1,411.7 L1184.0,410.7 L1186.8,409.7 L1189.7,408.7 L1192.5,407.7 L1195.3,406.7 L1198.1,405.6 L1200.9,404.5 L1203.7,403.4 L1206.5,402.3 L1209.3,401.2 L1212.1,400.1 L1214.9,398.9 L1217.6,397.7 L1220.3,396.4 L1223.1,395.2 L1225.8,393.9 L1228.5,392.6 L1231.1,391.2 L1233.8,389.9 L1236.4,388.5 L1239.1,387.0 L1241.7,385.5 L1244.2,384.0 L1246.8,382.4 L1249.3,380.8 L1251.9,379.2 L1254.4,377.5 L1256.8,375.8 L1259.3,374.0 L1261.7,372.2 L1264.2,370.4 L1266.6,368.6 L1269.0,366.8 L1271.4,365.0 L1273.9,363.2 L1276.3,361.4 L1278.7,359.6 L1281.1,357.8 L1283.6,356.0 L1286.1,354.3 L1288.5,352.6 L1291.0,350.9 L1293.5,349.3 L1296.0,347.6 L1298.6,346.0 L1301.1,344.5 L1303.7,342.9 L1306.3,341.4 L1308.9,339.9 L1311.5,338.5 L1314.1,337.1 L1316.7,335.7 L1319.4,334.3 L1322.0,332.9 L1324.7,331.6 L1327.4,330.3 L1330.1,329.0 L1332.8,327.7 L1335.5,326.5 L1338.2,325.3 L1341.0,324.1 L1343.7,322.9 L1346.5,321.8 L1349.3,320.7 L1352.0,319.6 L1354.8,318.5 L1357.7,317.4 L1360.5,316.4 L1363.3,315.4 L1366.2,314.4 L1369.0,313.4 L1371.9,312.5 L1374.8,311.5 L1377.6,310.6 L1380.5,309.7 L1383.4,308.7 L1386.3,307.8 L1389.1,306.8 L1392.0,305.9 L1394.8,304.9 L1397.6,303.9 L1400.4,302.8 L1403.2,301.7 L1406.0,300.6 L1408.7,299.4 L1411.4,298.1 L1414.0,296.8 L1416.6,295.4 L1419.2,293.9 L1421.7,292.4 L1424.2,290.7 L1426.6,289.1 L1429.0,287.3 L1431.3,285.5 L1433.7,283.6 L1436.0,281.7 L1438.2,279.7 L1440.5,277.7 L1442.7,275.7 L1444.9,273.6 L1447.0,271.5 L1449.2,269.3 L1451.3,267.2 L1453.4,265.0 L1455.5,262.8 L1457.6,260.6 L1459.7,258.4 L1461.7,256.2 L1463.8,253.9 L1465.9,251.7 L1467.9,249.5 L1470.0,247.3 L1472.0,245.0 L1474.0,242.8 L1476.0,240.5 L1478.1,238.3 L1480.1,236.1 L1482.1,233.8 L1484.1,231.6 L1486.1,229.3 L1488.1,227.1 L1490.1,224.8 L1492.0,222.5 L1494.0,220.3 L1496.0,218.0 L1498.0,215.8 L1499.9,213.5 L1501.9,211.2 L1503.9,209.0 L1505.8,206.7 L1507.8,204.4 L1509.7,202.2 L1511.7,199.9 L1513.6,197.6 L1515.6,195.4 L1517.5,193.1 L1519.5,190.8 L1521.4,188.6 L1523.4,186.3 L1525.3,184.0 L1527.3,181.8 L1529.2,179.5 L1531.2,177.2 L1533.1,175.0 L1535.1,172.7 L1537.0,170.4 L1539.0,168.2 L1540.9,165.9 L1542.9,163.7 L1544.8,161.4 L1546.8,159.1 L1548.8,156.9 L1550.7,154.6 L1552.7,152.4 L1554.7,150.1 L1556.7,147.9 L1558.6,145.7 L1560.6,143.4 L1562.6,141.2 L1564.6,138.9 L1566.6,136.7 L1568.6,134.5 L1570.6,132.3 L1572.7,130.0 L1574.7,127.8 L1576.7,125.6 L1578.7,123.4 L1580.8,121.2 L1582.8,119.0 L1584.9,116.8 L1587.0,114.6 L1589.0,112.4 L1591.1,110.2 L1593.2,108.0 L1595.3,105.8 L1597.4,103.7 L1599.5,101.5 L1597.5,103.7 L1595.5,106.0 L1593.6,108.3 L1591.7,110.6 L1589.9,113.0 L1588.0,115.4 L1586.2,117.8 L1584.5,120.2 L1582.7,122.6 L1581.0,125.1 L1579.3,127.5 L1577.7,130.0 L1576.0,132.5 L1574.4,135.1 L1572.8,137.6 L1571.2,140.1 L1569.7,142.7 L1568.1,145.3 L1566.5,147.8 L1565.0,150.4 L1563.5,153.0 L1562.0,155.6 L1560.4,158.2 L1558.9,160.8 L1557.4,163.4 L1555.9,166.0 L1554.4,168.6 L1552.8,171.2 L1551.3,173.7 L1549.8,176.3 L1548.2,178.9 L1546.7,181.5 L1545.2,184.1 L1543.6,186.6 L1542.1,189.2 L1540.5,191.8 L1538.9,194.3 L1537.4,196.9 L1535.8,199.4 L1534.2,202.0 L1532.6,204.5 L1531.0,207.1 L1529.4,209.6 L1527.9,212.1 L1526.3,214.7 L1524.7,217.2 L1523.0,219.7 L1521.4,222.3 L1519.8,224.8 L1518.2,227.3 L1516.6,229.8 L1514.9,232.3 L1513.3,234.8 L1511.7,237.4 L1510.0,239.9 L1508.4,242.4 L1506.7,244.9 L1505.1,247.4 L1503.4,249.9 L1501.8,252.4 L1500.1,254.9 L1498.4,257.3 L1496.8,259.8 L1495.1,262.3 L1493.4,264.8 L1491.7,267.3 L1490.0,269.8 L1488.3,272.3 L1486.6,274.7 L1484.9,277.2 L1483.2,279.7 L1481.5,282.1 L1479.8,284.6 L1478.1,287.1 L1476.4,289.5 L1474.7,292.0 L1473.0,294.5 L1471.2,296.9 L1469.5,299.4 L1467.8,301.8 L1466.1,304.3 L1464.3,306.8 L1462.6,309.2 L1460.9,311.7 L1459.1,314.1 L1457.4,316.6 L1455.6,319.0 L1453.9,321.4 L1452.1,323.9 L1450.4,326.3 L1448.6,328.8 L1446.9,331.2 L1445.1,333.6 L1443.4,336.1 L1441.6,338.5 L1439.9,340.9 L1438.1,343.4 L1436.3,345.8 L1434.6,348.2 L1432.8,350.7 L1431.0,353.1 L1429.3,355.5 L1427.5,357.9 L1425.7,360.4 L1424.0,362.8 L1422.2,365.2 L1420.4,367.6 L1418.7,370.0 L1416.9,372.5 L1415.1,374.9 L1413.3,377.3 L1411.6,379.7 L1409.8,382.1 L1408.0,384.5 L1406.2,387.0 L1404.5,389.4 L1402.7,391.8 L1400.9,394.2 L1399.2,396.6 L1397.4,399.0 L1395.6,401.4 L1393.8,403.8 L1392.1,406.3 L1390.3,408.7 L1388.5,411.1 L1386.7,413.5 L1384.9,415.9 L1383.2,418.3 L1381.4,420.7 L1379.6,423.1 L1377.8,425.5 L1376.1,428.0 L1374.3,430.4 L1372.5,432.8 L1370.7,435.2 L1369.0,437.6 L1367.2,440.0 L1365.4,442.4 L1363.6,444.9 L1361.9,447.3 L1360.1,449.7 L1358.3,452.1 L1356.5,454.5 L1354.8,456.9 L1353.0,459.4 L1351.2,461.8 L1349.5,464.2 L1347.7,466.6 L1345.9,469.1 L1344.1,471.5 L1342.4,473.9 L1340.6,476.3 L1338.8,478.8 L1337.1,481.2 L1335.3,483.6 L1333.5,486.0 L1331.7,488.5 L1329.9,490.9 L1328.2,493.3 L1326.4,495.7 L1324.6,498.1 L1322.8,500.5 L1321.0,503.0 L1319.2,505.4 L1317.4,507.8 L1315.6,510.2 L1313.8,512.6 L1312.0,515.0 L1310.1,517.3 L1308.3,519.7 L1306.5,522.1 L1304.6,524.5 L1302.8,526.8 L1300.9,529.2 L1299.1,531.5 L1297.2,533.9 L1295.4,536.2 L1293.5,538.5 L1291.6,540.9 L1289.7,543.2 L1287.8,545.5 L1285.9,547.8 L1284.0,550.1 L1282.0,552.4 L1280.1,554.6 L1278.1,556.9 L1276.2,559.1 L1274.2,561.4 L1272.2,563.6 L1270.2,565.8 L1268.2,568.0 L1266.1,570.2 L1264.1,572.3 L1262.0,574.5 L1260.0,576.7 L1257.9,578.8 L1255.7,580.9 L1253.6,583.0 L1251.5,585.1 L1249.3,587.1 L1247.1,589.2 L1244.9,591.2 L1242.7,593.2 L1240.5,595.2 L1238.2,597.2 L1235.9,599.1 L1233.6,601.1 L1231.3,603.0 L1228.9,604.9 L1226.6,606.8 L1224.2,608.6 L1221.8,610.4 L1219.4,612.2 L1216.9,614.0 L1214.5,615.8 L1212.0,617.5 L1209.5,619.2 L1207.0,620.9 L1204.4,622.5 L1201.9,624.1 L1199.3,625.7 L1196.7,627.3 L1194.1,628.8 L1191.5,630.3 L1188.9,631.7 L1186.2,633.1 L1183.5,634.5 L1180.9,635.9 L1178.2,637.2 L1175.5,638.5 L1172.7,639.7 L1170.0,640.9 L1167.2,642.1 L1164.5,643.2 L1161.7,644.3 L1158.9,645.4 L1156.1,646.4 L1153.3,647.3 L1150.5,648.3 L1147.6,649.1 L1144.8,650.0 L1141.9,650.8 L1139.0,651.5 L1136.2,652.3 L1133.3,653.0 L1130.4,653.6 L1127.4,654.2 L1124.5,654.8 L1121.6,655.3 L1118.7,655.9 L1115.7,656.4 L1112.8,656.8 L1109.8,657.2 L1106.8,657.7 L1103.9,658.0 L1100.9,658.4 L1097.9,658.7 L1094.9,659.0 L1091.9,659.3 L1088.9,659.6 L1085.9,659.8 L1082.9,660.1 L1079.9,660.3 L1076.9,660.5 L1073.8,660.7 L1070.8,660.8 L1067.8,661.0 L1064.8,661.1 L1061.8,661.3 L1058.7,661.4 L1055.7,661.5 L1052.7,661.7 L1049.7,661.8 L1046.6,661.9 L1043.6,662.0 L1040.6,662.1 L1037.6,662.2 L1034.5,662.3 L1031.5,662.4 L1028.5,662.5 L1025.5,662.6 L1022.5,662.7 L1019.5,662.9 L1016.5,663.0 L1013.5,663.2 L1010.5,663.4 L1007.5,663.6 L1004.6,663.8 L1001.6,664.1 L998.7,664.4 L995.7,664.8 L992.8,665.2 L989.9,665.6 L987.0,666.1 L984.1,666.6 L981.2,667.2 L978.3,667.9 L975.5,668.6 L972.7,669.4 L969.8,670.3 L967.0,671.3 L964.2,672.3 L961.5,673.3 L958.7,674.4 L955.9,675.5 L953.1,676.6 L950.3,677.8 L947.5,678.9 L944.7,680.0 L941.8,681.0 L939.0,682.1 L936.1,683.2 L933.3,684.4 L930.6,685.6 L927.8,686.9 L925.2,688.2 L922.5,689.6 L919.9,691.0 L917.3,692.5 L914.8,694.1 L912.3,695.7 L909.9,697.4 L907.4,699.1 L905.0,700.9 L902.7,702.7 L900.3,704.5 L898.0,706.4 L895.8,708.3 L893.5,710.3 L891.3,712.3 L889.1,714.3 L886.9,716.3 L884.7,718.4 L882.6,720.5 L880.4,722.6 L878.3,724.7 L876.2,726.9 L874.1,729.0 L872.0,731.2 L870.0,733.4 L867.9,735.5 L865.8,737.7 L863.8,739.9 L861.7,742.1 L859.7,744.3 L857.7,746.5 L855.6,748.7 L853.6,750.9 L851.6,753.1 L849.6,755.3 L847.5,757.5 L845.5,759.7 L843.5,761.9 L841.4,764.1 L839.4,766.2 L837.4,768.4 L835.4,770.6 L833.3,772.8 L831.3,775.0 L829.2,777.1 L827.2,779.3 L825.1,781.5 L823.0,783.6 L821.0,785.8 L818.9,787.9 L816.8,790.0 L814.7,792.2 L812.6,794.3 L810.5,796.4 L808.3,798.5 L806.2,800.6 L804.0,802.7 L801.9,804.8 L799.7,806.8 L797.5,808.9 L795.3,810.9 L793.0,813.0 L790.8,815.0 L788.5,817.0 L786.2,819.0 L783.9,821.0 L781.6,823.0 L779.3,824.9 L776.9,826.8 L774.5,828.7 L772.1,830.6 L769.7,832.4 L767.3,834.2 L764.8,835.9 L762.3,837.6 L759.8,839.2 L757.2,840.8 L754.6,842.3 L752.0,843.7 L749.4,845.0 L746.7,846.3 L744.0,847.5 L741.3,848.6 L738.6,849.6 L735.8,850.6 L733.0,851.4 L730.1,852.2 L727.3,852.9 L724.4,853.6 L721.5,854.1 L718.6,854.7 L715.7,855.1 L712.7,855.5 L709.7,855.8 L706.8,856.1 L703.8,856.3 L700.8,856.4 L697.8,856.5 L694.8,856.6 L691.7,856.6 L688.7,856.5 L685.7,856.4 L682.7,856.3 L679.6,856.2 L676.6,855.9 L673.6,855.7 L670.5,855.4 L667.5,855.1 L664.5,854.8 L661.5,854.4 L658.5,854.1 L655.5,853.7 L652.5,853.2 L649.5,852.8 L646.6,852.3 L643.6,851.8 L640.6,851.3 L637.7,850.8 L634.7,850.2 L631.8,849.6 L628.8,849.1 L625.9,848.5 L623.0,847.9 L620.0,847.3 L617.1,846.6 L614.2,846.0 L611.2,845.4 L608.3,844.7 L605.4,844.0 L602.5,843.4 L599.5,842.7 L596.6,842.1 L593.7,841.4 L590.8,840.7 L587.9,840.1 L585.0,839.4 L582.0,838.7 L579.1,838.1 L576.2,837.4 L573.3,836.8 L570.3,836.1 L567.4,835.5 L564.5,834.9 L561.6,834.3 L558.6,833.7 L555.7,833.1 L552.8,832.5 L549.8,832.0 L546.9,831.4 L543.9,830.9 L541.0,830.4 L538.0,829.9 L535.0,829.5 L532.1,829.0 L529.1,828.6 L526.1,828.2 L523.1,827.8 L520.1,827.5 L517.2,827.2 L514.2,826.9 L511.2,826.6 L508.2,826.3 L505.2,826.1 L502.2,825.9 L499.2,825.7 L496.1,825.5 L493.1,825.4 L490.1,825.2 L487.1,825.1 L484.1,825.1 L481.1,825.0 L478.1,825.0 L475.1,825.0 L472.1,825.1 L469.0,825.1 L466.0,825.2 L463.0,825.3 L460.0,825.4 L457.0,825.6 L454.0,825.8 L451.0,826.0 L448.0,826.2 L445.0,826.5 L442.0,826.8 L439.1,827.1 L436.1,827.5 L433.1,827.9 L430.1,828.3 L427.2,828.7 L424.2,829.2 L421.3,829.6 L418.3,830.2 L415.4,830.7 L412.4,831.3 L409.5,831.9 L406.6,832.5 L403.7,833.2 L400.8,833.9 L397.9,834.6 L395.0,835.4 L392.1,836.1 L389.2,837.0 L386.4,837.8 L383.5,838.7 L380.7,839.6 L377.8,840.5 L375.0,841.5 L372.2,842.5 L369.4,843.5 L366.6,844.6 L363.8,845.7 L361.0,846.8 L358.3,848.0 L355.5,849.2 L352.8,850.4 L350.1,851.7 L347.4,853.0 L344.7,854.3 L342.0,855.6 L339.4,857.0 L336.7,858.5 L334.1,859.9 L331.4,861.4 L328.8,862.9 L326.3,864.5 L323.7,866.1 L321.1,867.7 L318.6,869.3 L316.0,871.0 L313.5,872.7 L311.0,874.4 L308.5,876.2 L306.1,878.0 L303.6,879.7 L301.2,881.6 L298.8,883.4 L296.4,885.3 L294.0,887.1 L291.6,889.0 L289.3,890.9 L286.9,892.9 L284.6,894.8 L282.3,896.8 L280.0,898.8 L277.8,900.8 L275.5,902.8 L273.3,904.8 L271.1,906.8 L268.9,908.8 L266.7,910.9 L264.6,912.9 L262.4,915.0 L260.3,917.1 L258.2,919.1 L256.1,921.2 L254.0,923.3 L252.0,925.4" fill="none" stroke="#ff0000" stroke-width="4.3" stroke-linejoin="round"/><rect x="251.0" y="42.5" width="1350.5" height="992.5" fill="none" stroke="#000" stroke-width="5.5"/><line x1="227" y1="1035.0" x2="251.0" y2="1035.0" stroke="#000" stroke-width="5.5"/><text transform="translate(216.6,1048.6) scale(1,1.07)" text-anchor="end" font-size="49.5" font-family="Liberation Serif, Times New Roman, serif" fill="#111">-80</text><line x1="237.5" y1="979.9" x2="251.0" y2="979.9" stroke="#000" stroke-width="5.5"/><line x1="227" y1="924.7" x2="251.0" y2="924.7" stroke="#000" stroke-width="5.5"/><text transform="translate(216.6,938.3) scale(1,1.07)" text-anchor="end" font-size="49.5" font-family="Liberation Serif, Times New Roman, serif" fill="#111">-60</text><line x1="237.5" y1="869.6" x2="251.0" y2="869.6" stroke="#000" stroke-width="5.5"/><line x1="227" y1="814.4" x2="251.0" y2="814.4" stroke="#000" stroke-width="5.5"/><text transform="translate(216.6,828.0) scale(1,1.07)" text-anchor="end" font-size="49.5" font-family="Liberation Serif, Times New Roman, serif" fill="#111">-40</text><line x1="237.5" y1="759.3" x2="251.0" y2="759.3" stroke="#000" stroke-width="5.5"/><line x1="227" y1="704.2" x2="251.0" y2="704.2" stroke="#000" stroke-width="5.5"/><text transform="translate(216.6,717.8) scale(1,1.07)" text-anchor="end" font-size="49.5" font-family="Liberation Serif, Times New Roman, serif" fill="#111">-20</text><line x1="237.5" y1="649.0" x2="251.0" y2="649.0" stroke="#000" stroke-width="5.5"/><line x1="227" y1="593.9" x2="251.0" y2="593.9" stroke="#000" stroke-width="5.5"/><text transform="translate(216.6,607.5) scale(1,1.07)" text-anchor="end" font-size="49.5" font-family="Liberation Serif, Times New Roman, serif" fill="#111">0</text><line x1="237.5" y1="538.8" x2="251.0" y2="538.8" stroke="#000" stroke-width="5.5"/><line x1="227" y1="483.6" x2="251.0" y2="483.6" stroke="#000" stroke-width="5.5"/><text transform="translate(216.6,497.2) scale(1,1.07)" text-anchor="end" font-size="49.5" font-family="Liberation Serif, Times New Roman, serif" fill="#111">20</text><line x1="237.5" y1="428.5" x2="251.0" y2="428.5" stroke="#000" stroke-width="5.5"/><line x1="227" y1="373.3" x2="251.0" y2="373.3" stroke="#000" stroke-width="5.5"/><text transform="translate(216.6,386.9) scale(1,1.07)" text-anchor="end" font-size="49.5" font-family="Liberation Serif, Times New Roman, serif" fill="#111">40</text><line x1="237.5" y1="318.2" x2="251.0" y2="318.2" stroke="#000" stroke-width="5.5"/><line x1="227" y1="263.1" x2="251.0" y2="263.1" stroke="#000" stroke-width="5.5"/><text transform="translate(216.6,276.7) scale(1,1.07)" text-anchor="end" font-size="49.5" font-family="Liberation Serif, Times New Roman, serif" fill="#111">60</text><line x1="237.5" y1="207.9" x2="251.0" y2="207.9" stroke="#000" stroke-width="5.5"/><line x1="227" y1="152.8" x2="251.0" y2="152.8" stroke="#000" stroke-width="5.5"/><text transform="translate(216.6,166.4) scale(1,1.07)" text-anchor="end" font-size="49.5" font-family="Liberation Serif, Times New Roman, serif" fill="#111">80</text><line x1="237.5" y1="97.6" x2="251.0" y2="97.6" stroke="#000" stroke-width="5.5"/><line x1="227" y1="42.5" x2="251.0" y2="42.5" stroke="#000" stroke-width="5.5"/><text transform="translate(216.6,56.1) scale(1,1.07)" text-anchor="end" font-size="49.5" font-family="Liberation Serif, Times New Roman, serif" fill="#111">100</text><line x1="323.3" y1="1035.0" x2="323.3" y2="1048" stroke="#000" stroke-width="5.5"/><line x1="443.9" y1="1035.0" x2="443.9" y2="1057.5" stroke="#000" stroke-width="5.5"/><text transform="translate(443.1,1107.8) scale(1,1.05)" text-anchor="middle" font-size="51" font-family="Liberation Serif, Times New Roman, serif" fill="#111">-1000</text><line x1="564.5" y1="1035.0" x2="564.5" y2="1048" stroke="#000" stroke-width="5.5"/><line x1="685.1" y1="1035.0" x2="685.1" y2="1057.5" stroke="#000" stroke-width="5.5"/><text transform="translate(684.3,1107.8) scale(1,1.05)" text-anchor="middle" font-size="51" font-family="Liberation Serif, Times New Roman, serif" fill="#111">-500</text><line x1="805.7" y1="1035.0" x2="805.7" y2="1048" stroke="#000" stroke-width="5.5"/><line x1="926.2" y1="1035.0" x2="926.2" y2="1057.5" stroke="#000" stroke-width="5.5"/><text transform="translate(925.5,1107.8) scale(1,1.05)" text-anchor="middle" font-size="51" font-family="Liberation Serif, Times New Roman, serif" fill="#111">0</text><line x1="1046.8" y1="1035.0" x2="1046.8" y2="1048" stroke="#000" stroke-width="5.5"/><line x1="1167.4" y1="1035.0" x2="1167.4" y2="1057.5" stroke="#000" stroke-width="5.5"/><text transform="translate(1166.6,1107.8) scale(1,1.05)" text-anchor="middle" font-size="51" font-family="Liberation Serif, Times New Roman, serif" fill="#111">500</text><line x1="1288.0" y1="1035.0" x2="1288.0" y2="1048" stroke="#000" stroke-width="5.5"/><line x1="1408.6" y1="1035.0" x2="1408.6" y2="1057.5" stroke="#000" stroke-width="5.5"/><text transform="translate(1407.8,1107.8) scale(1,1.05)" text-anchor="middle" font-size="51" font-family="Liberation Serif, Times New Roman, serif" fill="#111">1000</text><line x1="1529.2" y1="1035.0" x2="1529.2" y2="1048" stroke="#000" stroke-width="5.5"/><line x1="227" y1="1035.0" x2="251.0" y2="1035.0" stroke="#000" stroke-width="5.5"/><text x="925" y="1198.5" text-anchor="middle" font-size="59" font-family="Liberation Serif, Times New Roman, serif" fill="#111">Potential (mV, vs Ag/AgCl)</text><text transform="translate(63,577.5) rotate(-90)" text-anchor="middle" font-size="59" font-family="Liberation Serif, Times New Roman, serif" fill="#111">Current (µA)</text><line x1="389" y1="92.4" x2="494" y2="92.4" stroke="#ff0000" stroke-width="5"/><text transform="translate(502.5,107.5) scale(0.965,1.02)" font-size="46" font-family="Liberation Serif, Times New Roman, serif" fill="#111">3 mol% Fe-doped CuO/MWCNT composite</text><line x1="389" y1="147.1" x2="494" y2="147.1" stroke="#0000ff" stroke-width="5"/><text transform="translate(502.5,162.2) scale(0.965,1.02)" font-size="46" font-family="Liberation Serif, Times New Roman, serif" fill="#111">Undoped CuO/MWCNT composite</text><line x1="389" y1="201.8" x2="494" y2="201.8" stroke="#ff80ff" stroke-width="5" stroke-dasharray="13 10"/><text transform="translate(502.5,216.9) scale(0.965,1.02)" font-size="46" font-family="Liberation Serif, Times New Roman, serif" fill="#111">Fe-doped CuO</text><line x1="389" y1="256.5" x2="483" y2="256.5" stroke="#008000" stroke-width="5" stroke-dasharray="31 11 8 11 31"/><text transform="translate(502.5,271.6) scale(0.965,1.02)" font-size="46" font-family="Liberation Serif, Times New Roman, serif" fill="#111">Undoped CuO</text><line x1="389" y1="311.2" x2="494" y2="311.2" stroke="#000000" stroke-width="5"/><text transform="translate(502.5,326.3) scale(0.985,1.02)" font-size="46" font-family="Liberation Serif, Times New Roman, serif" fill="#111">MWCNTs</text><line x1="720.7" y1="430" x2="720.7" y2="1006" stroke="#ff8000" stroke-width="4.2"/><polygon points="711.5,1003.5 730,1003.5 723.3,1033 718.3,1033" fill="#ff8000"/><text x="748.5" y="949" font-size="47" font-family="Liberation Serif, Times New Roman, serif" fill="#ff8000">(-0.4 V)</text></g></svg></body></html>
